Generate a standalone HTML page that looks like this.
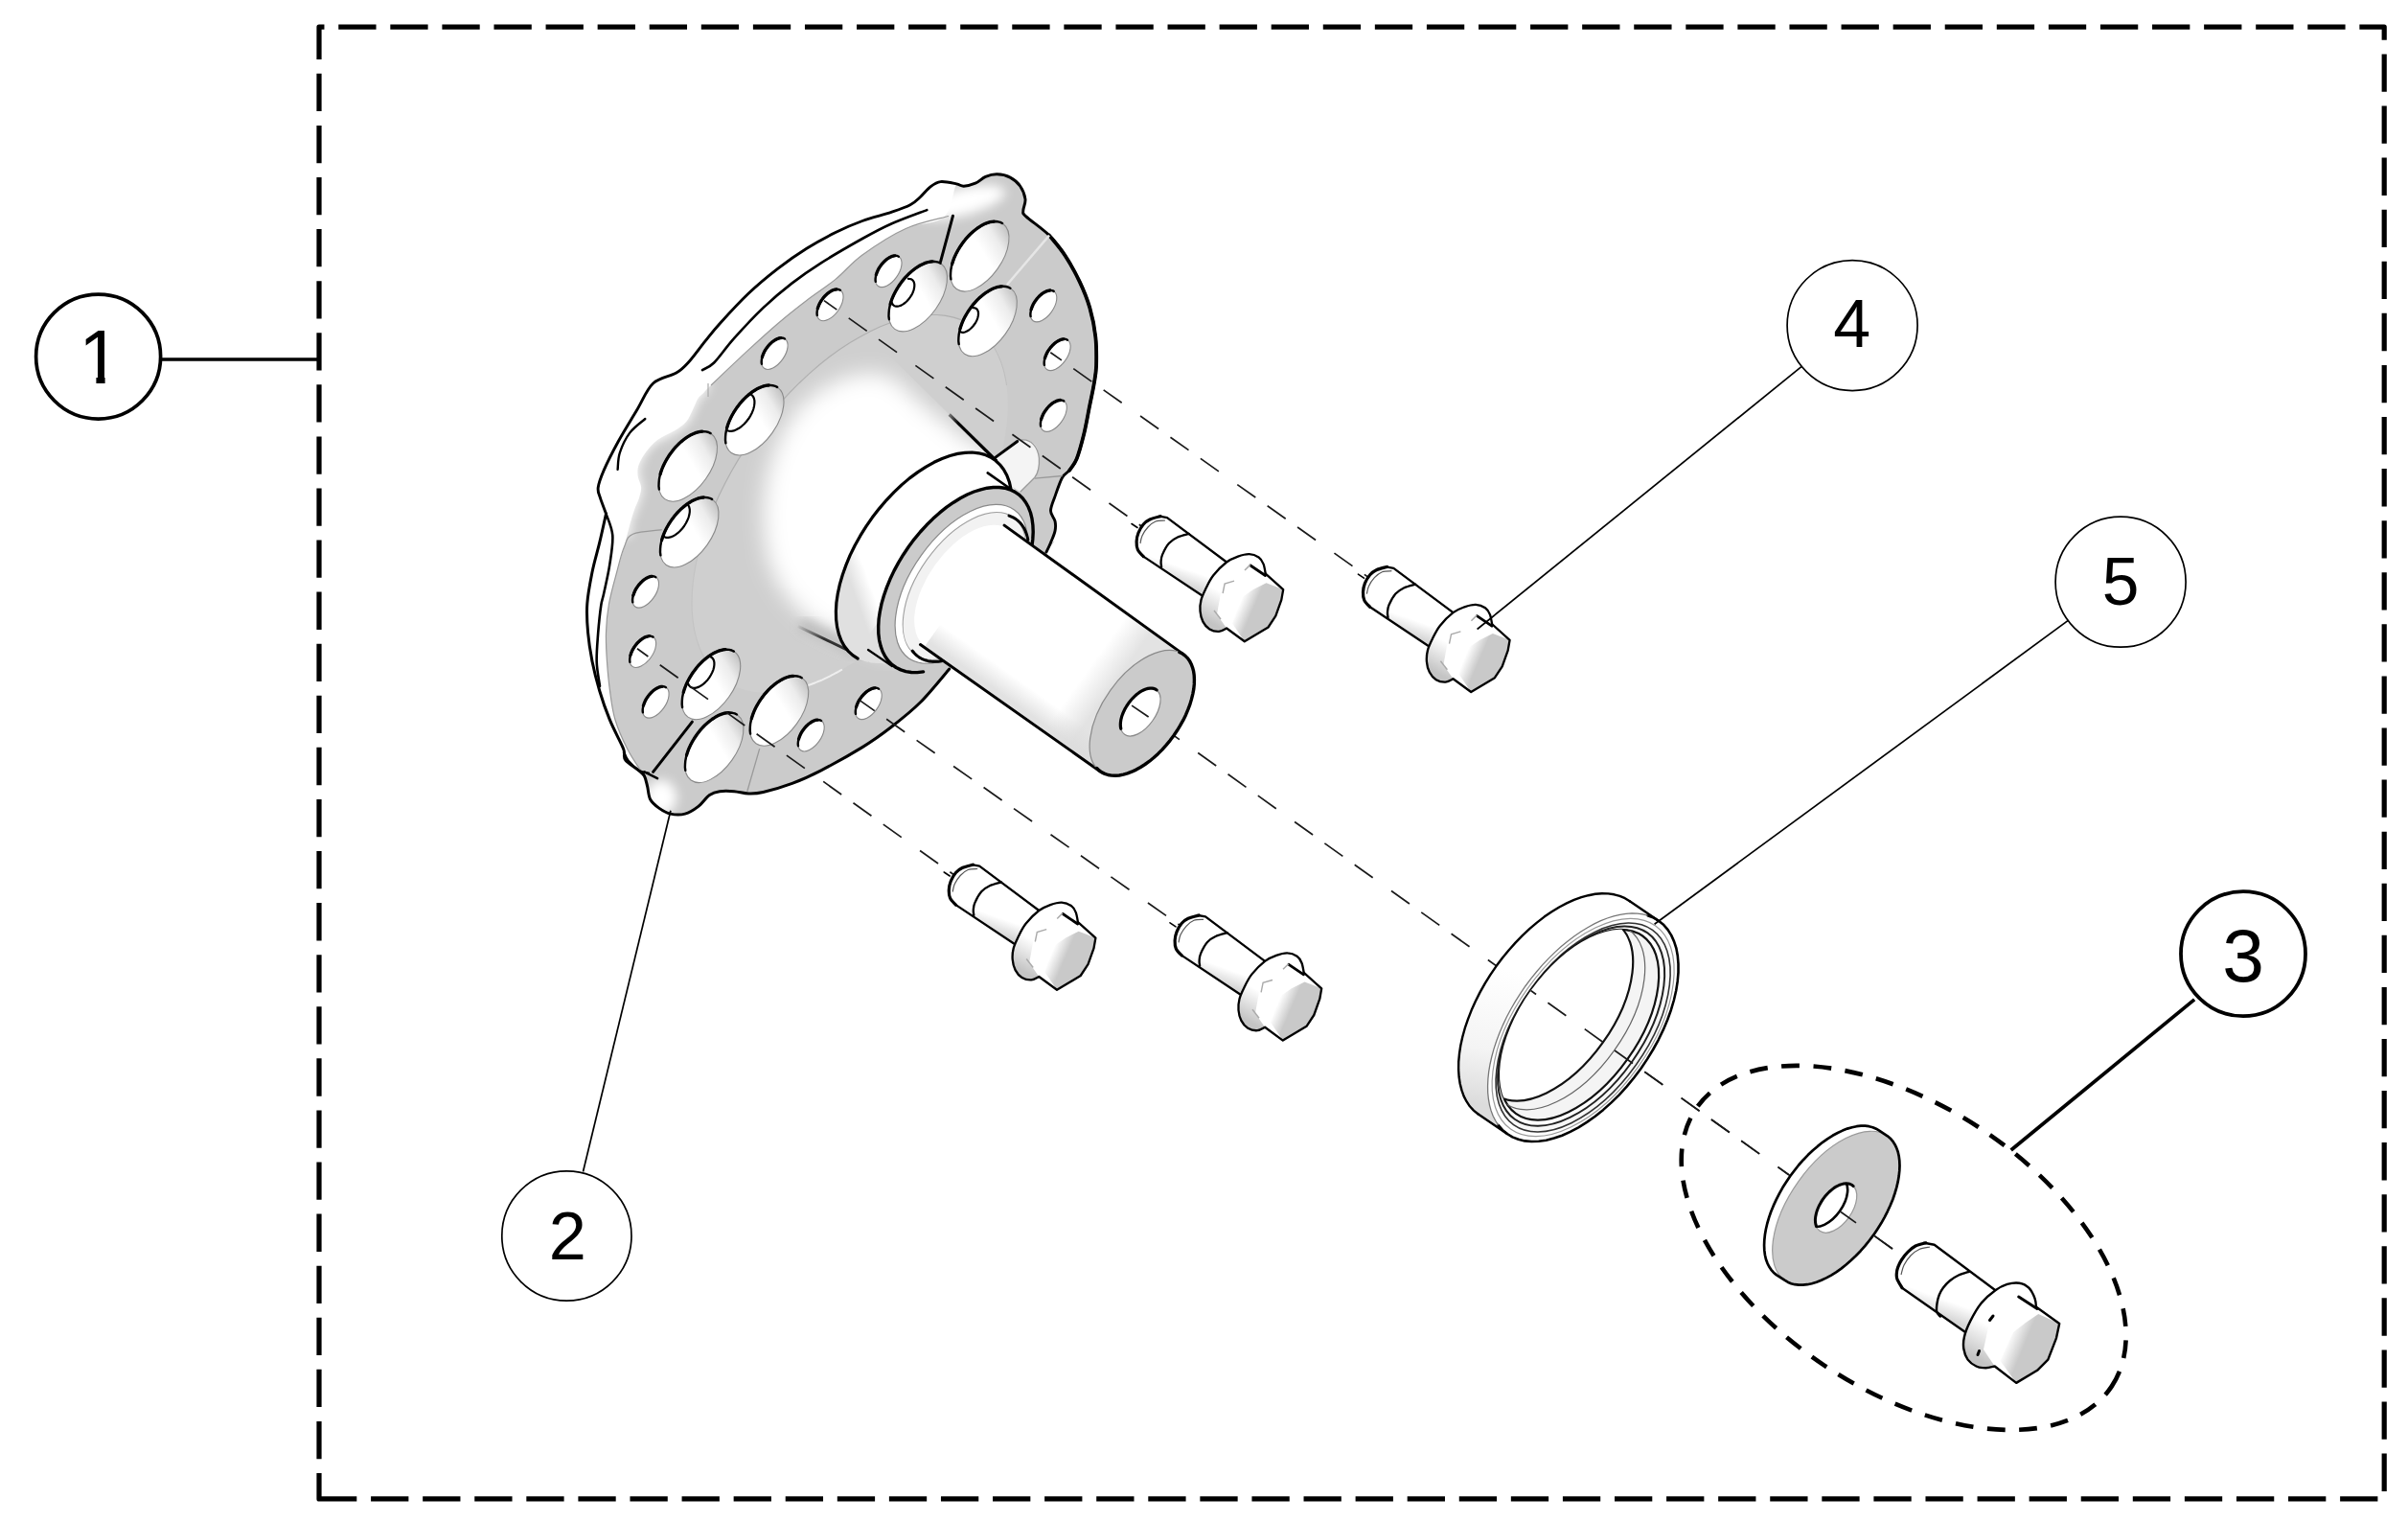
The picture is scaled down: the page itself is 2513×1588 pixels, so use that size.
<!DOCTYPE html>
<html><head><meta charset="utf-8"><title>Hub assembly</title>
<style>
html,body{margin:0;padding:0;background:#fff}
body{width:2513px;height:1588px;overflow:hidden}
svg{display:block}
text{font-family:"Liberation Sans",sans-serif;fill:#000;text-anchor:middle}
.cl{stroke:#1a1a1a;stroke-width:1.7;fill:none;stroke-dasharray:23.3 15.15 23.3 15.15 23.3 23.75}
.k{stroke:#000;fill:none;stroke-linecap:round;stroke-linejoin:round}
</style></head><body>
<svg width="2513" height="1588" viewBox="0 0 2513 1588">
<defs>
<radialGradient id="gCone" gradientUnits="userSpaceOnUse" cx="930" cy="470" r="230" gradientTransform="rotate(35.5 930 470) translate(930 470) scale(0.75 1) translate(-930 -470)">
<stop offset="0" stop-color="#fff"/><stop offset="0.55" stop-color="#fff"/><stop offset="1" stop-color="#d2d2d2"/></radialGradient>
<linearGradient id="gShaft" gradientUnits="userSpaceOnUse" x1="1120" y1="640" x2="1055" y2="731">
<stop offset="0" stop-color="#fff"/><stop offset="0.8" stop-color="#fff"/><stop offset="1" stop-color="#e2e2e2"/></linearGradient>
<linearGradient id="gShaftEnd" gradientUnits="userSpaceOnUse" x1="1133" y1="702" x2="1158" y2="720">
<stop offset="0" stop-color="#dcdcdc" stop-opacity="0"/><stop offset="1" stop-color="#dcdcdc" stop-opacity="0.8"/></linearGradient>
<linearGradient id="gBoss" gradientUnits="userSpaceOnUse" x1="1010" y1="520" x2="920" y2="650">
<stop offset="0" stop-color="#fff"/><stop offset="0.88" stop-color="#fff"/><stop offset="1" stop-color="#e0e0e0"/></linearGradient>
<filter id="b6" x="-20%" y="-20%" width="140%" height="140%"><feGaussianBlur stdDeviation="6"/></filter>
<filter id="b10" x="-30%" y="-30%" width="160%" height="160%"><feGaussianBlur stdDeviation="11"/></filter>
<filter id="b3" x="-20%" y="-20%" width="140%" height="140%"><feGaussianBlur stdDeviation="3"/></filter>
<filter id="b2" x="-20%" y="-20%" width="140%" height="140%"><feGaussianBlur stdDeviation="1.6"/></filter>
</defs>
<rect width="2513" height="1588" fill="#fff"/>
<line x1="1181.1" y1="736.1" x2="1975.0" y2="1303.0" class="cl" stroke-dashoffset="39"/>
<path d="M930.2,221.4 C938.5,218.6 944.9,216.5 949.9,213.8 C954.9,211.2 957.0,208.7 960.5,205.5 C964.0,202.3 967.5,197.6 971.0,194.9 C974.5,192.2 977.1,190.1 981.6,189.6 C986.1,189.1 994.2,191.1 998.2,191.9 C1002.2,192.7 1002.5,194.3 1005.8,194.2 C1009.1,194.1 1014.1,192.8 1017.9,191.2 C1021.7,189.6 1024.7,186.0 1028.5,184.4 C1032.3,182.8 1036.2,181.7 1040.5,181.8 C1044.8,181.9 1050.2,183.0 1054.2,185.1 C1058.2,187.2 1062.1,190.4 1064.7,194.2 C1067.3,198.0 1069.5,203.5 1070.0,207.8 C1070.5,212.1 1067.7,216.9 1067.8,219.9 C1067.9,222.9 1066.3,221.6 1070.8,225.9 C1075.3,230.2 1088.2,238.8 1095.0,245.6 C1101.8,252.4 1106.3,258.6 1111.6,266.7 C1116.9,274.8 1122.4,284.8 1126.7,293.9 C1131.0,303.0 1134.5,311.5 1137.3,321.1 C1140.1,330.7 1142.2,341.3 1143.3,351.4 C1144.4,361.5 1144.3,373.5 1144.1,381.6 C1143.8,389.7 1142.9,393.1 1141.8,400.0 C1140.7,406.9 1139.1,413.9 1137.3,422.7 C1135.5,431.5 1133.5,443.6 1131.2,452.9 C1128.9,462.2 1126.2,472.3 1123.7,478.6 C1121.2,484.9 1118.6,487.4 1116.1,490.7 C1113.6,494.0 1111.1,493.7 1108.6,498.2 C1106.1,502.7 1103.0,512.1 1101.0,517.9 C1099.0,523.7 1096.5,528.7 1096.5,533.0 C1096.5,537.3 1100.2,540.1 1101.0,543.6 C1101.8,547.1 1101.8,550.3 1101.0,554.1 C1100.2,557.9 1098.0,562.5 1096.5,566.2 C1095.0,569.9 1109.5,554.1 1091.9,576.1 C1074.3,598.1 1012.6,671.9 990.7,698.0 C968.8,724.1 970.6,722.7 960.5,732.8 C950.4,742.9 940.3,750.7 930.2,758.5 C920.1,766.3 912.2,772.1 900.0,779.6 C887.8,787.1 869.1,797.5 856.9,803.8 C844.7,810.1 836.8,813.6 826.7,817.4 C816.6,821.2 804.1,824.7 796.5,826.5 C788.9,828.3 786.3,828.1 781.3,828.0 C776.2,827.9 771.2,826.1 766.2,825.7 C761.2,825.3 755.4,825.1 751.1,825.7 C746.8,826.3 744.3,826.9 740.5,829.5 C736.7,832.1 732.8,838.3 728.5,841.6 C724.2,844.9 719.7,847.9 714.9,849.1 C710.1,850.4 704.2,850.1 699.7,849.1 C695.2,848.1 691.2,845.6 687.7,843.1 C684.2,840.6 680.6,837.8 678.6,834.0 C676.6,830.2 676.6,824.4 675.6,820.4 C674.6,816.4 674.0,812.6 672.5,809.8 C671.0,807.0 669.8,806.6 666.5,803.8 C663.2,801.0 655.4,796.2 652.9,793.2 C650.4,790.2 651.9,788.0 651.4,785.7 C650.9,783.4 652.4,785.4 649.9,779.6 C647.4,773.8 640.3,760.7 636.3,750.9 C632.3,741.1 628.7,730.8 625.7,720.7 C622.7,710.6 620.1,700.6 618.1,690.5 C616.1,680.4 614.5,670.3 613.6,660.2 C612.7,650.1 612.0,640.6 612.8,630.0 C613.5,619.4 616.0,607.1 618.1,596.5 C620.2,585.9 623.3,576.3 625.7,566.2 C628.1,556.1 632.4,543.8 632.5,536.0 C632.6,528.2 627.8,523.9 626.4,519.4 C625.0,514.9 623.6,513.6 624.2,508.8 C624.8,504.0 626.7,498.8 630.2,490.7 C633.7,482.6 639.5,471.1 645.3,460.5 C651.1,449.9 659.0,437.3 665.0,427.2 C671.0,417.1 674.8,406.4 681.6,400.0 C688.4,393.6 699.5,392.9 705.8,389.1 C712.1,385.3 714.4,382.5 719.4,377.0 C724.4,371.5 730.7,362.4 736.0,355.9 C741.3,349.3 743.6,346.0 751.1,337.7 C758.6,329.4 771.2,315.6 781.3,306.0 C791.4,296.4 801.5,288.1 811.6,280.3 C821.7,272.5 831.7,265.5 841.8,259.2 C851.9,252.9 862.3,247.3 872.0,242.5 C881.7,237.7 890.3,234.0 900.0,230.5 C909.7,227.0 921.9,224.2 930.2,221.4Z" fill="#fff" stroke="none"/>
<clipPath id="cFace"><path d="M930.2,221.4 C938.5,218.6 944.9,216.5 949.9,213.8 C954.9,211.2 957.0,208.7 960.5,205.5 C964.0,202.3 967.5,197.6 971.0,194.9 C974.5,192.2 977.1,190.1 981.6,189.6 C986.1,189.1 994.2,191.1 998.2,191.9 C1002.2,192.7 1002.5,194.3 1005.8,194.2 C1009.1,194.1 1014.1,192.8 1017.9,191.2 C1021.7,189.6 1024.7,186.0 1028.5,184.4 C1032.3,182.8 1036.2,181.7 1040.5,181.8 C1044.8,181.9 1050.2,183.0 1054.2,185.1 C1058.2,187.2 1062.1,190.4 1064.7,194.2 C1067.3,198.0 1069.5,203.5 1070.0,207.8 C1070.5,212.1 1067.7,216.9 1067.8,219.9 C1067.9,222.9 1066.3,221.6 1070.8,225.9 C1075.3,230.2 1088.2,238.8 1095.0,245.6 C1101.8,252.4 1106.3,258.6 1111.6,266.7 C1116.9,274.8 1122.4,284.8 1126.7,293.9 C1131.0,303.0 1134.5,311.5 1137.3,321.1 C1140.1,330.7 1142.2,341.3 1143.3,351.4 C1144.4,361.5 1144.3,373.5 1144.1,381.6 C1143.8,389.7 1142.9,393.1 1141.8,400.0 C1140.7,406.9 1139.1,413.9 1137.3,422.7 C1135.5,431.5 1133.5,443.6 1131.2,452.9 C1128.9,462.2 1126.2,472.3 1123.7,478.6 C1121.2,484.9 1118.6,487.4 1116.1,490.7 C1113.6,494.0 1111.1,493.7 1108.6,498.2 C1106.1,502.7 1103.0,512.1 1101.0,517.9 C1099.0,523.7 1096.5,528.7 1096.5,533.0 C1096.5,537.3 1100.2,540.1 1101.0,543.6 C1101.8,547.1 1101.8,550.3 1101.0,554.1 C1100.2,557.9 1098.0,562.5 1096.5,566.2 C1095.0,569.9 1109.5,554.1 1091.9,576.1 C1074.3,598.1 1012.6,671.9 990.7,698.0 C968.8,724.1 970.6,722.7 960.5,732.8 C950.4,742.9 940.3,750.7 930.2,758.5 C920.1,766.3 912.2,772.1 900.0,779.6 C887.8,787.1 869.1,797.5 856.9,803.8 C844.7,810.1 836.8,813.6 826.7,817.4 C816.6,821.2 804.1,824.7 796.5,826.5 C788.9,828.3 786.3,828.1 781.3,828.0 C776.2,827.9 771.2,826.1 766.2,825.7 C761.2,825.3 755.4,825.1 751.1,825.7 C746.8,826.3 744.3,826.9 740.5,829.5 C736.7,832.1 732.8,838.3 728.5,841.6 C724.2,844.9 719.7,847.9 714.9,849.1 C710.1,850.4 704.2,850.1 699.7,849.1 C695.2,848.1 691.2,845.6 687.7,843.1 C684.2,840.6 680.6,837.8 678.6,834.0 C676.6,830.2 676.6,824.4 675.6,820.4 C674.6,816.4 674.0,812.6 672.5,809.8 C671.0,807.0 669.8,806.6 666.5,803.8 C663.2,801.0 655.4,796.2 652.9,793.2 C650.4,790.2 651.9,788.0 651.4,785.7 C650.9,783.4 652.4,785.4 649.9,779.6 C647.4,773.8 640.3,760.7 636.3,750.9 C632.3,741.1 628.7,730.8 625.7,720.7 C622.7,710.6 620.1,700.6 618.1,690.5 C616.1,680.4 614.5,670.3 613.6,660.2 C612.7,650.1 612.0,640.6 612.8,630.0 C613.5,619.4 616.0,607.1 618.1,596.5 C620.2,585.9 623.3,576.3 625.7,566.2 C628.1,556.1 632.4,543.8 632.5,536.0 C632.6,528.2 627.8,523.9 626.4,519.4 C625.0,514.9 623.6,513.6 624.2,508.8 C624.8,504.0 626.7,498.8 630.2,490.7 C633.7,482.6 639.5,471.1 645.3,460.5 C651.1,449.9 659.0,437.3 665.0,427.2 C671.0,417.1 674.8,406.4 681.6,400.0 C688.4,393.6 699.5,392.9 705.8,389.1 C712.1,385.3 714.4,382.5 719.4,377.0 C724.4,371.5 730.7,362.4 736.0,355.9 C741.3,349.3 743.6,346.0 751.1,337.7 C758.6,329.4 771.2,315.6 781.3,306.0 C791.4,296.4 801.5,288.1 811.6,280.3 C821.7,272.5 831.7,265.5 841.8,259.2 C851.9,252.9 862.3,247.3 872.0,242.5 C881.7,237.7 890.3,234.0 900.0,230.5 C909.7,227.0 921.9,224.2 930.2,221.4Z"/></clipPath>
<g clip-path="url(#cFace)">
<path d="M900.0,266.0 C912.2,257.2 931.1,245.1 945.3,238.5 C959.5,231.9 976.2,234.3 985.0,226.5 C993.8,218.7 994.7,197.3 998.2,191.9 C1001.7,186.5 1002.5,194.3 1005.8,194.2 C1009.1,194.1 1014.1,192.8 1017.9,191.2 C1021.7,189.6 1024.7,186.0 1028.5,184.4 C1032.3,182.8 1036.2,181.7 1040.5,181.8 C1044.8,181.9 1050.2,183.0 1054.2,185.1 C1058.2,187.2 1062.1,190.4 1064.7,194.2 C1067.3,198.0 1069.5,203.5 1070.0,207.8 C1070.5,212.1 1067.7,216.9 1067.8,219.9 C1067.9,222.9 1066.3,221.6 1070.8,225.9 C1075.3,230.2 1088.2,238.8 1095.0,245.6 C1101.8,252.4 1106.3,258.6 1111.6,266.7 C1116.9,274.8 1122.4,284.8 1126.7,293.9 C1131.0,303.0 1134.5,311.5 1137.3,321.1 C1140.1,330.7 1142.2,341.3 1143.3,351.4 C1144.4,361.5 1144.3,373.5 1144.1,381.6 C1143.8,389.7 1142.9,393.1 1141.8,400.0 C1140.7,406.9 1139.1,413.9 1137.3,422.7 C1135.5,431.5 1133.5,443.6 1131.2,452.9 C1128.9,462.2 1126.2,472.3 1123.7,478.6 C1121.2,484.9 1118.6,487.4 1116.1,490.7 C1113.6,494.0 1111.1,493.7 1108.6,498.2 C1106.1,502.7 1103.0,512.1 1101.0,517.9 C1099.0,523.7 1096.5,528.7 1096.5,533.0 C1096.5,537.3 1100.2,540.1 1101.0,543.6 C1101.8,547.1 1101.8,550.3 1101.0,554.1 C1100.2,557.9 1098.0,562.5 1096.5,566.2 C1095.0,569.9 1109.5,554.1 1091.9,576.1 C1074.3,598.1 1012.6,671.9 990.7,698.0 C968.8,724.1 970.6,722.7 960.5,732.8 C950.4,742.9 940.3,750.7 930.2,758.5 C920.1,766.3 912.2,772.1 900.0,779.6 C887.8,787.1 869.1,797.5 856.9,803.8 C844.7,810.1 836.8,813.6 826.7,817.4 C816.6,821.2 804.1,824.7 796.5,826.5 C788.9,828.3 786.3,828.1 781.3,828.0 C776.2,827.9 771.2,826.1 766.2,825.7 C761.2,825.3 755.4,825.1 751.1,825.7 C746.8,826.3 744.3,826.9 740.5,829.5 C736.7,832.1 732.8,838.3 728.5,841.6 C724.2,844.9 719.7,847.9 714.9,849.1 C710.1,850.4 704.2,850.1 699.7,849.1 C695.2,848.1 691.2,845.6 687.7,843.1 C684.2,840.6 680.6,837.8 678.6,834.0 C676.6,830.2 677.0,825.1 675.6,820.4 C674.2,815.7 673.4,812.4 670.0,806.0 C666.6,799.6 659.7,791.2 655.0,782.0 C650.3,772.8 645.1,761.2 642.0,751.0 C638.9,740.8 637.9,730.8 636.5,720.7 C635.1,710.6 634.2,700.6 633.5,690.5 C632.8,680.4 632.2,670.3 632.5,660.2 C632.8,650.1 633.6,640.6 635.5,630.0 C637.4,619.4 641.1,606.4 643.8,596.5 C646.4,586.6 649.1,579.0 651.4,570.8 C653.6,562.6 655.5,553.8 657.3,547.3 C659.1,540.8 660.4,536.4 662.0,531.9 C663.6,527.4 665.6,524.0 666.8,520.1 C668.0,516.2 669.3,512.2 669.1,508.3 C668.9,504.4 666.0,500.3 665.6,496.4 C665.2,492.4 665.2,488.9 666.8,484.6 C668.4,480.3 671.6,474.7 675.0,470.4 C678.4,466.1 682.0,462.2 686.9,458.6 C691.8,455.1 699.7,452.2 704.6,449.1 C709.5,446.0 713.5,443.1 716.4,439.7 C719.3,436.3 720.3,432.9 722.3,429.0 C724.3,425.1 726.3,419.1 728.3,416.0 C730.3,412.9 731.9,412.4 734.2,410.1 C736.5,407.8 734.1,409.5 742.0,402.0 C749.9,394.5 769.7,375.6 781.3,364.9 C792.9,354.2 801.5,346.3 811.6,337.7 C821.7,329.1 831.7,321.2 841.8,313.5 C851.9,305.8 862.3,299.3 872.0,291.4 C881.7,283.5 887.8,274.8 900.0,266.0Z" fill="#cbcbcb"/>
<g filter="url(#b6)" fill="#fff">
<ellipse cx="1003" cy="211" rx="47" ry="14" transform="rotate(-14 1003 211)"/>
<path d="M736.0,398.0 C735.0,399.3 732.2,403.3 730.0,406.0 C727.8,408.7 725.2,410.3 723.0,414.0 C720.8,417.7 719.0,424.0 717.0,428.0 C715.0,432.0 714.0,434.8 711.0,438.0 C708.0,441.2 704.0,444.0 699.0,447.0 C694.0,450.0 686.0,452.5 681.0,456.0 C676.0,459.5 672.3,463.5 669.0,468.0 C665.7,472.5 662.6,478.3 661.0,483.0 C659.4,487.7 659.2,491.8 659.5,496.0 C659.8,500.2 662.8,504.0 663.0,508.0 C663.2,512.0 662.2,516.0 661.0,520.0 C659.8,524.0 657.7,527.5 656.0,532.0 C654.3,536.5 651.7,542.3 651.0,547.0 C650.3,551.7 651.8,557.8 652.0,560.0" stroke="#fff" stroke-width="13" fill="none"/>
<ellipse cx="690" cy="832" rx="16" ry="18"/>
</g>
<ellipse cx="886.9" cy="525.7" rx="122.63" ry="226.00" transform="rotate(35.5 886.9 525.7)" fill="#cfcfcf" stroke="none"/>
<clipPath id="cCone"><path d="M700,300 L900,343 L990.7,432.5 L1048,489 L1048,700 L905,700 L700,700Z"/></clipPath>
<g clip-path="url(#cCone)"><g filter="url(#b10)" fill="#fff">
<path d="M925.0,392.0 C939.2,396.8 952.5,414.0 965.0,424.0 C977.5,434.0 986.7,440.7 1000.0,452.0 C1013.3,463.3 1038.3,467.3 1045.0,492.0 C1051.7,516.7 1054.2,568.7 1040.0,600.0 C1025.8,631.3 983.3,668.0 960.0,680.0 C936.7,692.0 919.2,677.7 900.0,672.0 C880.8,666.3 860.3,658.0 845.0,646.0 C829.7,634.0 816.0,617.7 808.0,600.0 C800.0,582.3 797.3,560.3 797.0,540.0 C796.7,519.7 799.7,497.2 806.0,478.0 C812.3,458.8 822.7,438.8 835.0,425.0 C847.3,411.2 865.0,400.5 880.0,395.0 C895.0,389.5 910.8,387.2 925.0,392.0Z" />
</g></g>
</g>
<path d="M734.8,556.0 L739.3,543.3 L744.4,530.4 L750.1,517.6 L756.4,504.8 L763.2,492.0 L770.6,479.4 L778.4,467.1 L786.8,454.9 L795.5,443.1 L804.6,431.6 L814.1,420.5 L823.9,409.9 L834.0,399.7 L844.2,390.1 L854.7,381.0 L865.3,372.6 L876.0,364.8 L886.7,357.7 L897.5,351.4 L908.2,345.7 L918.8,340.8 L929.2,336.7 L939.5,333.4 L949.6,331.0 L959.4,329.3 L968.9,328.5 L978.0,328.5 L986.8,329.4 L995.1,331.1 L1003.0,333.6" stroke="#b0b0b0" stroke-width="1.2" fill="none"/>
<path d="M747.5,702.8 L744.7,699.9 L742.1,696.9 L739.7,693.6 L737.4,690.2 L735.2,686.7 L733.2,682.9 L731.4,679.0 L729.7,675.0 L728.2,670.8 L726.9,666.4 L725.7,661.9 L724.6,657.3 L723.8,652.5 L723.1,647.6 L722.6,642.6 L722.2,637.5 L722.0,632.2 L722.0,626.8 L722.2,621.4 L722.5,615.8 L723.0,610.1 L723.6,604.4 L724.5,598.6 L725.5,592.7 L726.6,586.7 L727.9,580.7 L729.4,574.6 L731.1,568.4 L732.9,562.2 L734.8,556.0" stroke="#c4c4c4" stroke-width="1.2" fill="none"/>
<path d="M879.0,698.5 L876.9,699.7 L874.8,700.9 L872.7,702.0 L870.6,703.2 L868.5,704.2 L866.4,705.3 L864.3,706.3 L862.2,707.3 L860.1,708.3 L858.1,709.3 L856.0,710.2 L853.9,711.0 L851.8,711.9 L849.8,712.7 L847.7,713.5 L845.7,714.3 L843.6,715.0 L841.6,715.7 L839.6,716.3 L837.6,717.0 L835.6,717.6 L833.6,718.2 L831.6,718.7 L829.6,719.2 L827.6,719.7 L825.6,720.1 L823.7,720.5 L821.7,720.9 L819.8,721.3 L817.9,721.6" stroke="#eee" stroke-width="2" fill="none"/>
<path d="M1003.0,333.6 L1005.5,334.6 L1008.0,335.8 L1010.5,337.0 L1012.9,338.3 L1015.2,339.7 L1017.4,341.2 L1019.6,342.8 L1021.8,344.5 L1023.8,346.3 L1025.8,348.1 L1027.8,350.1 L1029.6,352.1 L1031.4,354.2 L1033.1,356.4 L1034.8,358.7 L1036.4,361.0 L1037.9,363.5 L1039.3,366.0 L1040.6,368.6 L1041.9,371.3 L1043.1,374.0 L1044.3,376.9 L1045.3,379.8 L1046.3,382.7 L1047.2,385.8 L1048.0,388.9 L1048.7,392.1 L1049.4,395.3 L1050.0,398.6 L1050.5,402.0" stroke="#bdbdbd" stroke-width="1" fill="none"/>
<path d="M632.5,536.0 C631.5,533.2 627.8,523.9 626.4,519.4 C625.0,514.9 623.6,513.6 624.2,508.8 C624.8,504.0 626.7,498.8 630.2,490.7 C633.7,482.6 639.5,471.1 645.3,460.5 C651.1,449.9 659.0,437.3 665.0,427.2 C671.0,417.1 674.8,406.4 681.6,400.0 C688.4,393.6 699.5,392.9 705.8,389.1 C712.1,385.3 714.4,382.5 719.4,377.0 C724.4,371.5 730.7,362.4 736.0,355.9 C741.3,349.3 743.6,346.0 751.1,337.7 C758.6,329.4 771.2,315.6 781.3,306.0 C791.4,296.4 801.5,288.1 811.6,280.3 C821.7,272.5 831.7,265.5 841.8,259.2 C851.9,252.9 862.3,247.3 872.0,242.5 C881.7,237.7 890.3,234.0 900.0,230.5 C909.7,227.0 921.9,224.2 930.2,221.4 C938.5,218.6 944.9,216.5 949.9,213.8 C954.9,211.2 957.0,208.7 960.5,205.5 C964.0,202.3 967.5,197.6 971.0,194.9 C974.5,192.2 977.1,190.1 981.6,189.6 C986.1,189.1 994.2,191.1 998.2,191.9 C1002.2,192.7 1002.5,194.3 1005.8,194.2 C1009.1,194.1 1014.1,192.8 1017.9,191.2 C1021.7,189.6 1024.7,186.0 1028.5,184.4 C1032.3,182.8 1036.2,181.7 1040.5,181.8 C1044.8,181.9 1050.2,183.0 1054.2,185.1 C1058.2,187.2 1062.1,190.4 1064.7,194.2 C1067.3,198.0 1069.5,203.5 1070.0,207.8 C1070.5,212.1 1067.7,216.9 1067.8,219.9 C1067.9,222.9 1066.3,221.6 1070.8,225.9 C1075.3,230.2 1088.2,238.8 1095.0,245.6 C1101.8,252.4 1106.3,258.6 1111.6,266.7 C1116.9,274.8 1122.4,284.8 1126.7,293.9 C1131.0,303.0 1134.5,311.5 1137.3,321.1 C1140.1,330.7 1142.2,341.3 1143.3,351.4 C1144.4,361.5 1144.3,373.5 1144.1,381.6 C1143.8,389.7 1142.9,393.1 1141.8,400.0 C1140.7,406.9 1139.1,413.9 1137.3,422.7 C1135.5,431.5 1133.5,443.6 1131.2,452.9 C1128.9,462.2 1126.2,472.3 1123.7,478.6 C1121.2,484.9 1118.6,487.4 1116.1,490.7 C1113.6,494.0 1111.1,493.7 1108.6,498.2 C1106.1,502.7 1103.0,512.1 1101.0,517.9 C1099.0,523.7 1096.5,528.7 1096.5,533.0 C1096.5,537.3 1100.2,540.1 1101.0,543.6 C1101.8,547.1 1101.8,550.3 1101.0,554.1 C1100.2,557.9 1098.0,562.5 1096.5,566.2 C1095.0,569.9 1092.7,574.5 1091.9,576.1" class="k" stroke-width="2.9"/>
<path d="M1095.0,245.6 C1097.8,249.1 1106.3,258.6 1111.6,266.7 C1116.9,274.8 1122.4,284.8 1126.7,293.9 C1131.0,303.0 1134.5,311.5 1137.3,321.1 C1140.1,330.7 1142.2,341.3 1143.3,351.4 C1144.4,361.5 1144.3,373.5 1144.1,381.6 C1143.8,389.7 1142.9,393.1 1141.8,400.0 C1140.7,406.9 1139.1,413.9 1137.3,422.7 C1135.5,431.5 1133.5,443.6 1131.2,452.9 C1128.9,462.2 1126.2,472.3 1123.7,478.6 C1121.2,484.9 1117.4,488.7 1116.1,490.7" class="k" stroke-width="3.8"/>
<path d="M990.7,698.0 C985.7,703.8 970.6,722.7 960.5,732.8 C950.4,742.9 940.3,750.7 930.2,758.5 C920.1,766.3 912.2,772.1 900.0,779.6 C887.8,787.1 869.1,797.5 856.9,803.8 C844.7,810.1 836.8,813.6 826.7,817.4 C816.6,821.2 804.1,824.7 796.5,826.5 C788.9,828.3 786.3,828.1 781.3,828.0 C776.2,827.9 771.2,826.1 766.2,825.7 C761.2,825.3 755.4,825.1 751.1,825.7 C746.8,826.3 744.3,826.9 740.5,829.5 C736.7,832.1 732.8,838.3 728.5,841.6 C724.2,844.9 719.7,847.9 714.9,849.1 C710.1,850.4 704.2,850.1 699.7,849.1 C695.2,848.1 691.2,845.6 687.7,843.1 C684.2,840.6 680.6,837.8 678.6,834.0 C676.6,830.2 676.6,824.4 675.6,820.4 C674.6,816.4 674.0,812.6 672.5,809.8 C671.0,807.0 669.8,806.6 666.5,803.8 C663.2,801.0 655.4,796.2 652.9,793.2 C650.4,790.2 651.9,788.0 651.4,785.7 C650.9,783.4 652.4,785.4 649.9,779.6 C647.4,773.8 640.3,760.7 636.3,750.9 C632.3,741.1 628.7,730.8 625.7,720.7 C622.7,710.6 620.1,700.6 618.1,690.5 C616.1,680.4 614.5,670.3 613.6,660.2 C612.7,650.1 612.0,640.6 612.8,630.0 C613.5,619.4 616.0,607.1 618.1,596.5 C620.2,585.9 623.3,576.3 625.7,566.2 C628.1,556.1 631.4,541.0 632.5,536.0" class="k" stroke-width="3.0"/>
<path d="M733.0,386.1 C735.0,384.8 739.6,384.0 745.1,378.5 C750.6,373.0 757.6,362.5 766.2,352.9 C774.8,343.3 786.4,330.7 796.5,321.1 C806.6,311.5 816.6,303.2 826.7,295.4 C836.8,287.6 844.7,282.0 856.9,274.3 C869.1,266.6 887.8,255.8 900.0,249.0 C912.2,242.2 919.0,238.5 930.2,233.5 C941.4,228.5 961.1,221.5 967.3,219.1" class="k" stroke-width="2.6"/>
<path d="M632.5,536.0 C633.6,539.8 638.7,549.9 639.3,558.7 C639.9,567.5 637.8,578.8 636.3,588.9 C634.8,599.0 631.7,611.9 630.2,619.1 C628.7,626.3 628.2,625.1 627.2,632.0 C626.2,638.9 625.0,650.5 624.2,660.2 C623.5,670.0 622.4,681.2 622.7,690.5 C623.0,699.8 625.5,711.8 626.0,716.0" class="k" stroke-width="2.6"/>
<path d="M673.3,437.0 C670.6,439.4 661.8,445.5 657.4,451.4 C653.0,457.3 648.9,466.1 646.8,472.5 C644.7,478.9 645.0,487.0 644.6,489.9" class="k" stroke-width="2.4"/>
<path d="M670.0,806.0 C667.5,802.0 659.7,791.2 655.0,782.0 C650.3,772.8 645.1,761.2 642.0,751.0 C638.9,740.8 637.9,730.8 636.5,720.7 C635.1,710.6 634.2,700.6 633.5,690.5 C632.8,680.4 632.2,670.3 632.5,660.2 C632.8,650.1 633.6,640.6 635.5,630.0 C637.4,619.4 641.1,606.4 643.8,596.5 C646.4,586.6 648.6,577.3 651.4,570.8 C654.2,564.2 654.0,560.2 660.5,557.2 C667.0,554.2 685.7,553.4 690.7,552.6" stroke="#999" stroke-width="1.2" fill="none"/>
<path d="M742.0,402.0 C748.5,395.8 769.7,375.6 781.3,364.9 C792.9,354.2 801.5,346.3 811.6,337.7 C821.7,329.1 831.7,321.2 841.8,313.5 C851.9,305.8 862.3,299.3 872.0,291.4 C881.7,283.5 887.8,274.8 900.0,266.0 C912.2,257.2 930.3,245.2 945.3,238.5 C960.3,231.8 982.5,227.7 990.0,225.5" stroke="#999" stroke-width="1.2" fill="none"/>
<line x1="994.5" y1="225.2" x2="981.6" y2="272.8" class="k" stroke-width="3"/>
<line x1="722.4" y1="753.2" x2="681.6" y2="805.3" class="k" stroke-width="3"/>
<line x1="672.5" y1="805.3" x2="686.1" y2="812.1" class="k" stroke-width="2.5"/>
<path d="M651.4,784.9 C652.1,786.4 653.2,790.6 655.8,793.8 C658.4,797.0 663.5,801.8 667.0,803.9 C670.5,806.0 675.3,806.1 677.0,806.5" class="k" stroke-width="2.2"/>
<line x1="1095.0" y1="245.6" x2="1051.0" y2="297.0" stroke="#e6e6e6" stroke-width="2.5"/>
<line x1="792.7" y1="781.1" x2="779.8" y2="825.7" stroke="#9a9a9a" stroke-width="1.3"/>
<line x1="739.0" y1="400.0" x2="739.0" y2="414.0" stroke="#aaa" stroke-width="1.2"/>
<linearGradient id="gHole" gradientUnits="objectBoundingBox" x1="0.55" y1="0" x2="0.45" y2="0.42"><stop offset="0" stop-color="#c4c4c4"/><stop offset="0.45" stop-color="#ececec"/><stop offset="1" stop-color="#fff"/></linearGradient>
<ellipse cx="927.3" cy="283.2" rx="10.20" ry="18.80" transform="rotate(35.5 927.3 283.2)" fill="#fff" stroke="#8a8a8a" stroke-width="1.1"/>
<path d="M913.8,293.9 L913.6,292.5 L913.6,291.0 L913.8,289.4 L914.1,287.7 L914.6,285.9 L915.2,284.2 L916.0,282.4 L916.9,280.6 L917.9,278.8 L919.1,277.1 L920.3,275.5 L921.7,274.0 L923.1,272.6 L924.5,271.3 L926.0,270.1 L927.5,269.1 L929.0,268.3 L930.4,267.6 L931.9,267.2 L933.3,266.9 L934.6,266.8 L935.8,266.9 L936.9,267.2 L937.9,267.7" class="k" stroke-width="2.4"/>
<path d="M914.3,286.8 L914.7,285.7 L915.1,284.5 L915.6,283.3 L916.1,282.1 L916.7,280.9 L917.4,279.7 L918.1,278.6 L918.9,277.5 L919.7,276.4 L920.5,275.3 L921.4,274.3 L922.3,273.3 L923.3,272.4 L924.2,271.5 L925.2,270.7 L926.2,270.0 L927.2,269.3 L928.2,268.7 L929.2,268.2 L930.2,267.7 L931.1,267.4 L932.1,267.1 L933.0,266.9 L933.9,266.8" class="k" stroke-width="3.3"/>
<ellipse cx="866.3" cy="318.3" rx="10.20" ry="18.80" transform="rotate(35.5 866.3 318.3)" fill="#fff" stroke="#8a8a8a" stroke-width="1.1"/>
<path d="M852.8,329.0 L852.6,327.6 L852.6,326.1 L852.8,324.5 L853.1,322.8 L853.6,321.0 L854.2,319.3 L855.0,317.5 L855.9,315.7 L856.9,313.9 L858.1,312.2 L859.3,310.6 L860.7,309.1 L862.1,307.7 L863.5,306.4 L865.0,305.2 L866.5,304.2 L868.0,303.4 L869.4,302.7 L870.9,302.3 L872.3,302.0 L873.6,301.9 L874.8,302.0 L875.9,302.3 L876.9,302.8" class="k" stroke-width="2.4"/>
<path d="M853.3,321.9 L853.7,320.8 L854.1,319.6 L854.6,318.4 L855.1,317.2 L855.7,316.0 L856.4,314.8 L857.1,313.7 L857.9,312.6 L858.7,311.5 L859.5,310.4 L860.4,309.4 L861.3,308.4 L862.3,307.5 L863.2,306.6 L864.2,305.8 L865.2,305.1 L866.2,304.4 L867.2,303.8 L868.2,303.3 L869.2,302.8 L870.1,302.5 L871.1,302.2 L872.0,302.0 L872.9,301.9" class="k" stroke-width="3.3"/>
<ellipse cx="808.4" cy="369.0" rx="10.20" ry="18.80" transform="rotate(35.5 808.4 369.0)" fill="#fff" stroke="#8a8a8a" stroke-width="1.1"/>
<path d="M794.9,379.7 L794.7,378.3 L794.7,376.8 L794.9,375.2 L795.2,373.5 L795.7,371.7 L796.3,370.0 L797.1,368.2 L798.0,366.4 L799.0,364.6 L800.2,362.9 L801.4,361.3 L802.8,359.8 L804.2,358.4 L805.6,357.1 L807.1,355.9 L808.6,354.9 L810.1,354.1 L811.5,353.4 L813.0,353.0 L814.4,352.7 L815.7,352.6 L816.9,352.7 L818.0,353.0 L819.0,353.5" class="k" stroke-width="2.4"/>
<path d="M795.4,372.6 L795.8,371.5 L796.2,370.3 L796.7,369.1 L797.2,367.9 L797.8,366.7 L798.5,365.5 L799.2,364.4 L800.0,363.3 L800.8,362.2 L801.6,361.1 L802.5,360.1 L803.4,359.1 L804.4,358.2 L805.3,357.3 L806.3,356.5 L807.3,355.8 L808.3,355.1 L809.3,354.5 L810.3,354.0 L811.3,353.5 L812.2,353.2 L813.2,352.9 L814.1,352.7 L815.0,352.6" class="k" stroke-width="3.3"/>
<ellipse cx="1089.1" cy="319.4" rx="10.20" ry="18.80" transform="rotate(35.5 1089.1 319.4)" fill="#fff" stroke="#8a8a8a" stroke-width="1.1"/>
<path d="M1075.6,330.1 L1075.4,328.7 L1075.4,327.2 L1075.6,325.6 L1075.9,323.9 L1076.4,322.1 L1077.0,320.4 L1077.8,318.6 L1078.7,316.8 L1079.7,315.0 L1080.9,313.3 L1082.1,311.7 L1083.5,310.2 L1084.9,308.8 L1086.3,307.5 L1087.8,306.3 L1089.3,305.3 L1090.8,304.5 L1092.2,303.8 L1093.7,303.4 L1095.1,303.1 L1096.4,303.0 L1097.6,303.1 L1098.7,303.4 L1099.7,303.9" class="k" stroke-width="2.4"/>
<path d="M1076.1,323.0 L1076.5,321.9 L1076.9,320.7 L1077.4,319.5 L1077.9,318.3 L1078.5,317.1 L1079.2,315.9 L1079.9,314.8 L1080.7,313.7 L1081.5,312.6 L1082.3,311.5 L1083.2,310.5 L1084.1,309.5 L1085.1,308.6 L1086.0,307.7 L1087.0,306.9 L1088.0,306.2 L1089.0,305.5 L1090.0,304.9 L1091.0,304.4 L1092.0,303.9 L1092.9,303.6 L1093.9,303.3 L1094.8,303.1 L1095.7,303.0" class="k" stroke-width="3.3"/>
<ellipse cx="1103.4" cy="370.2" rx="10.20" ry="18.80" transform="rotate(35.5 1103.4 370.2)" fill="#fff" stroke="#8a8a8a" stroke-width="1.1"/>
<path d="M1089.9,380.9 L1089.7,379.5 L1089.7,378.0 L1089.9,376.4 L1090.2,374.7 L1090.7,372.9 L1091.3,371.2 L1092.1,369.4 L1093.0,367.6 L1094.0,365.8 L1095.2,364.1 L1096.4,362.5 L1097.8,361.0 L1099.2,359.6 L1100.6,358.3 L1102.1,357.1 L1103.6,356.1 L1105.1,355.3 L1106.5,354.6 L1108.0,354.2 L1109.4,353.9 L1110.7,353.8 L1111.9,353.9 L1113.0,354.2 L1114.0,354.7" class="k" stroke-width="2.4"/>
<path d="M1090.4,373.8 L1090.8,372.7 L1091.2,371.5 L1091.7,370.3 L1092.2,369.1 L1092.8,367.9 L1093.5,366.7 L1094.2,365.6 L1095.0,364.5 L1095.8,363.4 L1096.6,362.3 L1097.5,361.3 L1098.4,360.3 L1099.4,359.4 L1100.3,358.5 L1101.3,357.7 L1102.3,357.0 L1103.3,356.3 L1104.3,355.7 L1105.3,355.2 L1106.3,354.7 L1107.2,354.4 L1108.2,354.1 L1109.1,353.9 L1110.0,353.8" class="k" stroke-width="3.3"/>
<ellipse cx="1099.6" cy="433.9" rx="10.20" ry="18.80" transform="rotate(35.5 1099.6 433.9)" fill="#fff" stroke="#8a8a8a" stroke-width="1.1"/>
<path d="M1086.1,444.6 L1085.9,443.2 L1085.9,441.7 L1086.1,440.1 L1086.4,438.4 L1086.9,436.6 L1087.5,434.9 L1088.3,433.1 L1089.2,431.3 L1090.2,429.5 L1091.4,427.8 L1092.6,426.2 L1094.0,424.7 L1095.4,423.3 L1096.8,422.0 L1098.3,420.8 L1099.8,419.8 L1101.3,419.0 L1102.7,418.3 L1104.2,417.9 L1105.6,417.6 L1106.9,417.5 L1108.1,417.6 L1109.2,417.9 L1110.2,418.4" class="k" stroke-width="2.4"/>
<path d="M1086.6,437.5 L1087.0,436.4 L1087.4,435.2 L1087.9,434.0 L1088.4,432.8 L1089.0,431.6 L1089.7,430.4 L1090.4,429.3 L1091.2,428.2 L1092.0,427.1 L1092.8,426.0 L1093.7,425.0 L1094.6,424.0 L1095.6,423.1 L1096.5,422.2 L1097.5,421.4 L1098.5,420.7 L1099.5,420.0 L1100.5,419.4 L1101.5,418.9 L1102.5,418.4 L1103.4,418.1 L1104.4,417.8 L1105.3,417.6 L1106.2,417.5" class="k" stroke-width="3.3"/>
<ellipse cx="673.8" cy="617.7" rx="10.20" ry="18.80" transform="rotate(35.5 673.8 617.7)" fill="#fff" stroke="#8a8a8a" stroke-width="1.1"/>
<path d="M660.3,628.4 L660.1,627.0 L660.1,625.5 L660.3,623.9 L660.6,622.2 L661.1,620.4 L661.7,618.7 L662.5,616.9 L663.4,615.1 L664.4,613.3 L665.6,611.6 L666.8,610.0 L668.2,608.5 L669.6,607.1 L671.0,605.8 L672.5,604.6 L674.0,603.6 L675.5,602.8 L676.9,602.1 L678.4,601.7 L679.8,601.4 L681.1,601.3 L682.3,601.4 L683.4,601.7 L684.4,602.2" class="k" stroke-width="2.4"/>
<path d="M660.8,621.3 L661.2,620.2 L661.6,619.0 L662.1,617.8 L662.6,616.6 L663.2,615.4 L663.9,614.2 L664.6,613.1 L665.4,612.0 L666.2,610.9 L667.0,609.8 L667.9,608.8 L668.8,607.8 L669.8,606.9 L670.7,606.0 L671.7,605.2 L672.7,604.5 L673.7,603.8 L674.7,603.2 L675.7,602.7 L676.7,602.2 L677.6,601.9 L678.6,601.6 L679.5,601.4 L680.4,601.3" class="k" stroke-width="3.3"/>
<ellipse cx="670.9" cy="680.1" rx="10.20" ry="18.80" transform="rotate(35.5 670.9 680.1)" fill="#fff" stroke="#8a8a8a" stroke-width="1.1"/>
<path d="M657.4,690.8 L657.2,689.4 L657.2,687.9 L657.4,686.3 L657.7,684.6 L658.2,682.8 L658.8,681.1 L659.6,679.3 L660.5,677.5 L661.5,675.7 L662.7,674.0 L663.9,672.4 L665.3,670.9 L666.7,669.5 L668.1,668.2 L669.6,667.0 L671.1,666.0 L672.6,665.2 L674.0,664.5 L675.5,664.1 L676.9,663.8 L678.2,663.7 L679.4,663.8 L680.5,664.1 L681.5,664.6" class="k" stroke-width="2.4"/>
<path d="M657.9,683.7 L658.3,682.6 L658.7,681.4 L659.2,680.2 L659.7,679.0 L660.3,677.8 L661.0,676.6 L661.7,675.5 L662.5,674.4 L663.3,673.3 L664.1,672.2 L665.0,671.2 L665.9,670.2 L666.9,669.3 L667.8,668.4 L668.8,667.6 L669.8,666.9 L670.8,666.2 L671.8,665.6 L672.8,665.1 L673.8,664.6 L674.7,664.3 L675.7,664.0 L676.6,663.8 L677.5,663.7" class="k" stroke-width="3.3"/>
<ellipse cx="684.4" cy="732.7" rx="10.20" ry="18.80" transform="rotate(35.5 684.4 732.7)" fill="#fff" stroke="#8a8a8a" stroke-width="1.1"/>
<path d="M670.9,743.4 L670.7,742.0 L670.7,740.5 L670.9,738.9 L671.2,737.2 L671.7,735.4 L672.3,733.7 L673.1,731.9 L674.0,730.1 L675.0,728.3 L676.2,726.6 L677.4,725.0 L678.8,723.5 L680.2,722.1 L681.6,720.8 L683.1,719.6 L684.6,718.6 L686.1,717.8 L687.5,717.1 L689.0,716.7 L690.4,716.4 L691.7,716.3 L692.9,716.4 L694.0,716.7 L695.0,717.2" class="k" stroke-width="2.4"/>
<path d="M671.4,736.3 L671.8,735.2 L672.2,734.0 L672.7,732.8 L673.2,731.6 L673.8,730.4 L674.5,729.2 L675.2,728.1 L676.0,727.0 L676.8,725.9 L677.6,724.8 L678.5,723.8 L679.4,722.8 L680.4,721.9 L681.3,721.0 L682.3,720.2 L683.3,719.5 L684.3,718.8 L685.3,718.2 L686.3,717.7 L687.3,717.2 L688.2,716.9 L689.2,716.6 L690.1,716.4 L691.0,716.3" class="k" stroke-width="3.3"/>
<ellipse cx="846.5" cy="767.5" rx="10.20" ry="18.80" transform="rotate(35.5 846.5 767.5)" fill="#fff" stroke="#8a8a8a" stroke-width="1.1"/>
<path d="M833.0,778.2 L832.8,776.8 L832.8,775.3 L833.0,773.7 L833.3,772.0 L833.8,770.2 L834.4,768.5 L835.2,766.7 L836.1,764.9 L837.1,763.1 L838.3,761.4 L839.5,759.8 L840.9,758.3 L842.3,756.9 L843.7,755.6 L845.2,754.4 L846.7,753.4 L848.2,752.6 L849.6,751.9 L851.1,751.5 L852.5,751.2 L853.8,751.1 L855.0,751.2 L856.1,751.5 L857.1,752.0" class="k" stroke-width="2.4"/>
<path d="M833.5,771.1 L833.9,770.0 L834.3,768.8 L834.8,767.6 L835.3,766.4 L835.9,765.2 L836.6,764.0 L837.3,762.9 L838.1,761.8 L838.9,760.7 L839.7,759.6 L840.6,758.6 L841.5,757.6 L842.5,756.7 L843.4,755.8 L844.4,755.0 L845.4,754.3 L846.4,753.6 L847.4,753.0 L848.4,752.5 L849.4,752.0 L850.3,751.7 L851.3,751.4 L852.2,751.2 L853.1,751.1" class="k" stroke-width="3.3"/>
<ellipse cx="906.5" cy="734.2" rx="10.20" ry="18.80" transform="rotate(35.5 906.5 734.2)" fill="#fff" stroke="#8a8a8a" stroke-width="1.1"/>
<path d="M893.0,744.9 L892.8,743.5 L892.8,742.0 L893.0,740.4 L893.3,738.7 L893.8,736.9 L894.4,735.2 L895.2,733.4 L896.1,731.6 L897.1,729.8 L898.3,728.1 L899.5,726.5 L900.9,725.0 L902.3,723.6 L903.7,722.3 L905.2,721.1 L906.7,720.1 L908.2,719.3 L909.6,718.6 L911.1,718.2 L912.5,717.9 L913.8,717.8 L915.0,717.9 L916.1,718.2 L917.1,718.7" class="k" stroke-width="2.4"/>
<path d="M893.5,737.8 L893.9,736.7 L894.3,735.5 L894.8,734.3 L895.3,733.1 L895.9,731.9 L896.6,730.7 L897.3,729.6 L898.1,728.5 L898.9,727.4 L899.7,726.3 L900.6,725.3 L901.5,724.3 L902.5,723.4 L903.4,722.5 L904.4,721.7 L905.4,721.0 L906.4,720.3 L907.4,719.7 L908.4,719.2 L909.4,718.7 L910.3,718.4 L911.3,718.1 L912.2,717.9 L913.1,717.8" class="k" stroke-width="3.3"/>
<ellipse cx="1022.5" cy="267.5" rx="22.68" ry="41.80" transform="rotate(35.5 1022.5 267.5)" fill="url(#gHole)" stroke="#8a8a8a" stroke-width="1.1"/>
<path d="M992.4,291.4 L992.0,288.2 L992.1,284.8 L992.4,281.2 L993.1,277.5 L994.2,273.6 L995.6,269.6 L997.4,265.6 L999.4,261.7 L1001.7,257.8 L1004.2,254.0 L1007.0,250.4 L1010.0,247.0 L1013.1,243.8 L1016.3,241.0 L1019.6,238.4 L1022.9,236.2 L1026.2,234.3 L1029.5,232.9 L1032.7,231.8 L1035.7,231.2 L1038.7,231.0 L1041.4,231.3 L1043.9,231.9 L1046.1,233.0" class="k" stroke-width="2.4"/>
<path d="M993.6,275.6 L994.4,273.0 L995.3,270.4 L996.4,267.7 L997.6,265.1 L999.0,262.4 L1000.5,259.8 L1002.1,257.2 L1003.8,254.7 L1005.6,252.3 L1007.4,249.9 L1009.4,247.6 L1011.4,245.5 L1013.5,243.4 L1015.7,241.5 L1017.9,239.7 L1020.1,238.0 L1022.3,236.6 L1024.5,235.2 L1026.7,234.1 L1028.9,233.1 L1031.0,232.3 L1033.1,231.7 L1035.2,231.3 L1037.2,231.1" class="k" stroke-width="3.3"/>
<ellipse cx="958.0" cy="309.3" rx="22.68" ry="41.80" transform="rotate(35.5 958.0 309.3)" fill="url(#gHole)" stroke="#8a8a8a" stroke-width="1.1"/>
<clipPath id="ch9889"><ellipse cx="958.0" cy="309.3" rx="22.68" ry="41.80" transform="rotate(35.5 958.0 309.3)" /></clipPath>
<g clip-path="url(#ch9889)"><path d="M947.9,290.9 L949.6,291.0 L951.1,291.4 L952.3,292.2 L953.3,293.4 L953.9,294.8 L954.3,296.6 L954.3,298.6 L954.0,300.8 L953.4,303.1 L952.5,305.5 L951.3,307.9 L949.8,310.1 L948.2,312.3 L946.4,314.3 L944.5,316.0 L942.5,317.4 L940.5,318.6 L938.6,319.3 L936.8,319.7 L935.1,319.6 L933.6,319.2 L932.3,318.4 L931.4,317.3 L930.7,315.8" class="k" stroke-width="2.2"/></g>
<path d="M927.9,333.2 L927.5,330.0 L927.6,326.6 L927.9,323.0 L928.6,319.3 L929.7,315.4 L931.1,311.4 L932.9,307.4 L934.9,303.5 L937.2,299.6 L939.7,295.8 L942.5,292.2 L945.5,288.8 L948.6,285.6 L951.8,282.8 L955.1,280.2 L958.4,278.0 L961.7,276.1 L965.0,274.7 L968.2,273.6 L971.2,273.0 L974.2,272.8 L976.9,273.1 L979.4,273.7 L981.6,274.8" class="k" stroke-width="2.4"/>
<path d="M929.1,317.4 L929.9,314.8 L930.8,312.2 L931.9,309.5 L933.1,306.9 L934.5,304.2 L936.0,301.6 L937.6,299.0 L939.3,296.5 L941.1,294.1 L942.9,291.7 L944.9,289.4 L946.9,287.3 L949.0,285.2 L951.2,283.3 L953.4,281.5 L955.6,279.8 L957.8,278.4 L960.0,277.0 L962.2,275.9 L964.4,274.9 L966.5,274.1 L968.6,273.5 L970.7,273.1 L972.7,272.9" class="k" stroke-width="3.3"/>
<ellipse cx="1030.8" cy="335.2" rx="22.68" ry="41.80" transform="rotate(35.5 1030.8 335.2)" fill="url(#gHole)" stroke="#8a8a8a" stroke-width="1.1"/>
<clipPath id="ch10643"><ellipse cx="1030.8" cy="335.2" rx="22.68" ry="41.80" transform="rotate(35.5 1030.8 335.2)" /></clipPath>
<g clip-path="url(#ch10643)"><path d="M1015.3,321.2 L1016.8,321.2 L1018.1,321.6 L1019.2,322.3 L1020.1,323.4 L1020.7,324.7 L1021.0,326.3 L1021.0,328.0 L1020.7,330.0 L1020.2,332.1 L1019.4,334.2 L1018.3,336.3 L1017.0,338.3 L1015.5,340.2 L1013.9,342.0 L1012.2,343.5 L1010.5,344.8 L1008.7,345.8 L1007.0,346.5 L1005.4,346.8 L1003.9,346.8 L1002.5,346.4 L1001.4,345.7 L1000.6,344.7 L1000.0,343.4" class="k" stroke-width="2.2"/></g>
<path d="M1000.7,359.1 L1000.3,355.9 L1000.4,352.5 L1000.7,348.9 L1001.4,345.2 L1002.5,341.3 L1003.9,337.3 L1005.7,333.3 L1007.7,329.4 L1010.0,325.5 L1012.5,321.7 L1015.3,318.1 L1018.3,314.7 L1021.4,311.5 L1024.6,308.7 L1027.9,306.1 L1031.2,303.9 L1034.5,302.0 L1037.8,300.6 L1041.0,299.5 L1044.0,298.9 L1047.0,298.7 L1049.7,299.0 L1052.2,299.6 L1054.4,300.7" class="k" stroke-width="2.4"/>
<path d="M1001.9,343.3 L1002.7,340.7 L1003.6,338.1 L1004.7,335.4 L1005.9,332.8 L1007.3,330.1 L1008.8,327.5 L1010.4,324.9 L1012.1,322.4 L1013.9,320.0 L1015.7,317.6 L1017.7,315.3 L1019.7,313.2 L1021.8,311.1 L1024.0,309.2 L1026.2,307.4 L1028.4,305.7 L1030.6,304.3 L1032.8,302.9 L1035.0,301.8 L1037.2,300.8 L1039.3,300.0 L1041.4,299.4 L1043.5,299.0 L1045.5,298.8" class="k" stroke-width="3.3"/>
<ellipse cx="787.5" cy="438.4" rx="22.68" ry="41.80" transform="rotate(35.5 787.5 438.4)" fill="url(#gHole)" stroke="#8a8a8a" stroke-width="1.1"/>
<clipPath id="ch8313"><ellipse cx="787.5" cy="438.4" rx="22.68" ry="41.80" transform="rotate(35.5 787.5 438.4)" /></clipPath>
<g clip-path="url(#ch8313)"><path d="M778.6,410.3 L780.9,410.4 L782.9,411.0 L784.6,412.1 L786.0,413.7 L786.9,415.7 L787.4,418.1 L787.4,420.9 L787.0,423.9 L786.2,427.1 L784.9,430.4 L783.3,433.6 L781.3,436.8 L779.0,439.7 L776.5,442.5 L773.9,444.8 L771.2,446.8 L768.4,448.3 L765.8,449.4 L763.3,449.9 L761.0,449.8 L758.9,449.3 L757.2,448.2 L755.9,446.6 L754.9,444.6" class="k" stroke-width="2.2"/></g>
<path d="M757.4,462.3 L757.0,459.1 L757.1,455.7 L757.4,452.1 L758.1,448.4 L759.2,444.5 L760.6,440.5 L762.4,436.5 L764.4,432.6 L766.7,428.7 L769.2,424.9 L772.0,421.3 L775.0,417.9 L778.1,414.7 L781.3,411.9 L784.6,409.3 L787.9,407.1 L791.2,405.2 L794.5,403.8 L797.7,402.7 L800.7,402.1 L803.7,401.9 L806.4,402.2 L808.9,402.8 L811.1,403.9" class="k" stroke-width="2.4"/>
<path d="M758.6,446.5 L759.4,443.9 L760.3,441.3 L761.4,438.6 L762.6,436.0 L764.0,433.3 L765.5,430.7 L767.1,428.1 L768.8,425.6 L770.6,423.2 L772.4,420.8 L774.4,418.5 L776.4,416.4 L778.5,414.3 L780.7,412.4 L782.9,410.6 L785.1,408.9 L787.3,407.5 L789.5,406.1 L791.7,405.0 L793.9,404.0 L796.0,403.2 L798.1,402.6 L800.2,402.2 L802.2,402.0" class="k" stroke-width="3.3"/>
<ellipse cx="718.0" cy="486.6" rx="22.68" ry="41.80" transform="rotate(35.5 718.0 486.6)" fill="url(#gHole)" stroke="#8a8a8a" stroke-width="1.1"/>
<path d="M687.9,510.5 L687.5,507.3 L687.6,503.9 L687.9,500.3 L688.6,496.6 L689.7,492.7 L691.1,488.7 L692.9,484.7 L694.9,480.8 L697.2,476.9 L699.7,473.1 L702.5,469.5 L705.5,466.1 L708.6,462.9 L711.8,460.1 L715.1,457.5 L718.4,455.3 L721.7,453.4 L725.0,452.0 L728.2,450.9 L731.2,450.3 L734.2,450.1 L736.9,450.4 L739.4,451.0 L741.6,452.1" class="k" stroke-width="2.4"/>
<path d="M689.1,494.7 L689.9,492.1 L690.8,489.5 L691.9,486.8 L693.1,484.2 L694.5,481.5 L696.0,478.9 L697.6,476.3 L699.3,473.8 L701.1,471.4 L702.9,469.0 L704.9,466.7 L706.9,464.6 L709.0,462.5 L711.2,460.6 L713.4,458.8 L715.6,457.1 L717.8,455.7 L720.0,454.3 L722.2,453.2 L724.4,452.2 L726.5,451.4 L728.6,450.8 L730.7,450.4 L732.7,450.2" class="k" stroke-width="3.3"/>
<ellipse cx="719.5" cy="555.4" rx="22.68" ry="41.80" transform="rotate(35.5 719.5 555.4)" fill="url(#gHole)" stroke="#8a8a8a" stroke-width="1.1"/>
<clipPath id="ch7750"><ellipse cx="719.5" cy="555.4" rx="22.68" ry="41.80" transform="rotate(35.5 719.5 555.4)" /></clipPath>
<g clip-path="url(#ch7750)"><path d="M711.6,524.3 L713.8,524.4 L715.6,524.9 L717.2,525.9 L718.5,527.4 L719.3,529.3 L719.8,531.5 L719.8,534.1 L719.4,536.9 L718.6,539.8 L717.4,542.8 L715.9,545.8 L714.1,548.8 L712.0,551.5 L709.7,554.0 L707.3,556.2 L704.7,558.1 L702.2,559.5 L699.8,560.4 L697.4,560.9 L695.3,560.9 L693.4,560.3 L691.8,559.3 L690.6,557.9 L689.7,556.0" class="k" stroke-width="2.2"/></g>
<path d="M689.4,579.3 L689.0,576.1 L689.1,572.7 L689.4,569.1 L690.1,565.4 L691.2,561.5 L692.6,557.5 L694.4,553.5 L696.4,549.6 L698.7,545.7 L701.2,541.9 L704.0,538.3 L707.0,534.9 L710.1,531.7 L713.3,528.9 L716.6,526.3 L719.9,524.1 L723.2,522.2 L726.5,520.8 L729.7,519.7 L732.7,519.1 L735.7,518.9 L738.4,519.2 L740.9,519.8 L743.1,520.9" class="k" stroke-width="2.4"/>
<path d="M690.6,563.5 L691.4,560.9 L692.3,558.3 L693.4,555.6 L694.6,553.0 L696.0,550.3 L697.5,547.7 L699.1,545.1 L700.8,542.6 L702.6,540.2 L704.4,537.8 L706.4,535.5 L708.4,533.4 L710.5,531.3 L712.7,529.4 L714.9,527.6 L717.1,525.9 L719.3,524.5 L721.5,523.1 L723.7,522.0 L725.9,521.0 L728.0,520.2 L730.1,519.6 L732.2,519.2 L734.2,519.0" class="k" stroke-width="3.3"/>
<ellipse cx="742.2" cy="714.1" rx="22.68" ry="41.80" transform="rotate(35.5 742.2 714.1)" fill="url(#gHole)" stroke="#8a8a8a" stroke-width="1.1"/>
<clipPath id="ch8136"><ellipse cx="742.2" cy="714.1" rx="22.68" ry="41.80" transform="rotate(35.5 742.2 714.1)" /></clipPath>
<g clip-path="url(#ch8136)"><path d="M738.1,684.8 L740.0,684.8 L741.7,685.3 L743.1,686.2 L744.2,687.5 L745.0,689.3 L745.4,691.3 L745.4,693.6 L745.1,696.1 L744.4,698.8 L743.3,701.5 L741.9,704.2 L740.3,706.9 L738.4,709.4 L736.3,711.6 L734.1,713.6 L731.8,715.3 L729.5,716.6 L727.3,717.4 L725.2,717.8 L723.3,717.8 L721.6,717.3 L720.1,716.4 L719.0,715.1 L718.2,713.4" class="k" stroke-width="2.2"/></g>
<path d="M712.1,738.0 L711.7,734.8 L711.8,731.4 L712.1,727.8 L712.8,724.1 L713.9,720.2 L715.3,716.2 L717.1,712.2 L719.1,708.3 L721.4,704.4 L723.9,700.6 L726.7,697.0 L729.7,693.6 L732.8,690.4 L736.0,687.6 L739.3,685.0 L742.6,682.8 L745.9,680.9 L749.2,679.5 L752.4,678.4 L755.4,677.8 L758.4,677.6 L761.1,677.9 L763.6,678.5 L765.8,679.6" class="k" stroke-width="2.4"/>
<path d="M713.3,722.2 L714.1,719.6 L715.0,717.0 L716.1,714.3 L717.3,711.7 L718.7,709.0 L720.2,706.4 L721.8,703.8 L723.5,701.3 L725.3,698.9 L727.1,696.5 L729.1,694.2 L731.1,692.1 L733.2,690.0 L735.4,688.1 L737.6,686.3 L739.8,684.6 L742.0,683.2 L744.2,681.8 L746.4,680.7 L748.6,679.7 L750.7,678.9 L752.8,678.3 L754.9,677.9 L756.9,677.7" class="k" stroke-width="3.3"/>
<ellipse cx="745.4" cy="780.0" rx="22.68" ry="41.80" transform="rotate(35.5 745.4 780.0)" fill="url(#gHole)" stroke="#8a8a8a" stroke-width="1.1"/>
<path d="M715.3,803.9 L714.9,800.7 L715.0,797.3 L715.3,793.7 L716.0,790.0 L717.1,786.1 L718.5,782.1 L720.3,778.1 L722.3,774.2 L724.6,770.3 L727.1,766.5 L729.9,762.9 L732.9,759.5 L736.0,756.3 L739.2,753.5 L742.5,750.9 L745.8,748.7 L749.1,746.8 L752.4,745.4 L755.6,744.3 L758.6,743.7 L761.6,743.5 L764.3,743.8 L766.8,744.4 L769.0,745.5" class="k" stroke-width="2.4"/>
<path d="M716.5,788.1 L717.3,785.5 L718.2,782.9 L719.3,780.2 L720.5,777.6 L721.9,774.9 L723.4,772.3 L725.0,769.7 L726.7,767.2 L728.5,764.8 L730.3,762.4 L732.3,760.1 L734.3,758.0 L736.4,755.9 L738.6,754.0 L740.8,752.2 L743.0,750.5 L745.2,749.1 L747.4,747.7 L749.6,746.6 L751.8,745.6 L753.9,744.8 L756.0,744.2 L758.1,743.8 L760.1,743.6" class="k" stroke-width="3.3"/>
<ellipse cx="813.2" cy="741.7" rx="22.68" ry="41.80" transform="rotate(35.5 813.2 741.7)" fill="url(#gHole)" stroke="#8a8a8a" stroke-width="1.1"/>
<path d="M783.1,765.6 L782.7,762.4 L782.8,759.0 L783.1,755.4 L783.8,751.7 L784.9,747.8 L786.3,743.8 L788.1,739.8 L790.1,735.9 L792.4,732.0 L794.9,728.2 L797.7,724.6 L800.7,721.2 L803.8,718.0 L807.0,715.2 L810.3,712.6 L813.6,710.4 L816.9,708.5 L820.2,707.1 L823.4,706.0 L826.4,705.4 L829.4,705.2 L832.1,705.5 L834.6,706.1 L836.8,707.2" class="k" stroke-width="2.4"/>
<path d="M784.3,749.8 L785.1,747.2 L786.0,744.6 L787.1,741.9 L788.3,739.3 L789.7,736.6 L791.2,734.0 L792.8,731.4 L794.5,728.9 L796.3,726.5 L798.1,724.1 L800.1,721.8 L802.1,719.7 L804.2,717.6 L806.4,715.7 L808.6,713.9 L810.8,712.2 L813.0,710.8 L815.2,709.4 L817.4,708.3 L819.6,707.3 L821.7,706.5 L823.8,705.9 L825.9,705.5 L827.9,705.3" class="k" stroke-width="3.3"/>
<path d="M1039,477.1 L1061.7,460.5 C1070,456 1080,460 1083,470 C1086,482 1084,492 1079.8,498.2 L1064.7,513.3 L1045,500 Z" fill="#f4f4f4" stroke="none"/>
<path d="M1066,459 C1076,458 1083,466 1084.4,478 C1085,488 1083,494 1079.8,498.2" stroke="#9a9a9a" stroke-width="1.3" fill="none"/>
<line x1="1079.8" y1="499.2" x2="1108.6" y2="496.5" stroke="#9a9a9a" stroke-width="1.3"/>
<line x1="1079.8" y1="498.2" x2="1064.7" y2="513.3" stroke="#9a9a9a" stroke-width="1.3"/>
<line x1="1039.0" y1="477.1" x2="1061.7" y2="460.5" class="k" stroke-width="3"/>
<linearGradient id="gl1" gradientUnits="userSpaceOnUse" x1="832" y1="653" x2="860" y2="667"><stop offset="0" stop-color="#000" stop-opacity="0"/><stop offset="1" stop-color="#000"/></linearGradient>
<linearGradient id="gl2" gradientUnits="userSpaceOnUse" x1="988" y1="430" x2="1000" y2="442"><stop offset="0" stop-color="#000" stop-opacity="0.3"/><stop offset="1" stop-color="#000"/></linearGradient>
<path d="M832.7,653.4 L908,689.5" stroke="url(#gl1)" stroke-width="3" fill="none"/>
<path d="M990.7,432.5 L1040,481" stroke="url(#gl2)" stroke-width="3.2" fill="none"/>
<g filter="url(#b6)" opacity="0.55"><path d="M836,650 L905,683" stroke="#9c9c9c" stroke-width="12" fill="none"/></g>
<ellipse cx="964.3" cy="582.0" rx="68.37" ry="126.00" transform="rotate(35.5 964.3 582.0)" fill="url(#gBoss)" stroke="none"/>
<path d="M891.1,684.6 L933.1,695.1 L1061.7,514.9 L1037.5,479.4Z" fill="url(#gBoss)" stroke="none"/>
<path d="M895.2,687.1 L889.9,683.7 L885.2,679.3 L881.2,674.2 L877.9,668.3 L875.4,661.6 L873.6,654.2 L872.6,646.3 L872.4,637.7 L872.9,628.7 L874.3,619.3 L876.4,609.6 L879.3,599.7 L882.9,589.6 L887.1,579.4 L892.1,569.2 L897.7,559.2 L903.8,549.4 L910.4,539.8 L917.6,530.6 L925.1,521.8 L932.9,513.6 L941.0,505.9 L949.3,498.9 L957.8,492.6 L966.3,487.1 L974.8,482.3 L983.2,478.5 L991.4,475.5 L999.4,473.4 L1007.1,472.3 L1014.4,472.0 L1021.3,472.8 L1027.7,474.4 L1033.6,477.0 L1038.9,480.5 L1043.5,484.8 L1047.5,490.0 L1050.8,496.0 L1053.3,502.7 L1055.0,510.1" class="k" stroke-width="3.2"/>
<line x1="1030.7" y1="493.4" x2="1053.0" y2="509.0" class="k" stroke-width="2.6"/>
<line x1="906.0" y1="678.0" x2="931.0" y2="695.0" class="k" stroke-width="2.2"/>
<ellipse cx="997.4" cy="605.0" rx="60.07" ry="110.70" transform="rotate(35.5 997.4 605.0)" fill="#cbcbcb" stroke="none"/>
<path d="M963.6,700.9 L957.2,701.6 L951.1,701.5 L945.4,700.6 L940.1,698.9 L935.2,696.5 L930.9,693.4 L927.0,689.5 L923.8,685.0 L921.1,679.8 L919.1,674.1 L917.6,667.8 L916.8,661.0 L916.7,653.7 L917.1,646.1 L918.3,638.1 L920.0,629.9 L922.4,621.5 L925.4,612.9 L928.9,604.3 L933.0,595.6 L937.6,587.1 L942.7,578.7 L948.2,570.5 L954.1,562.6 L960.4,555.0 L967.0,547.8 L973.8,541.1 L980.7,534.9 L987.9,529.2 L995.1,524.2 L1002.3,519.8 L1009.4,516.0 L1016.5,513.0 L1023.5,510.8 L1030.2,509.2 L1036.6,508.5 L1042.8,508.5 L1048.6,509.2 L1053.9,510.8 L1058.9,513.1 L1063.3,516.1 L1067.2,519.8 L1070.5,524.2 L1073.3,529.3 L1075.5,535.0 L1077.0,541.2 L1077.9,547.9 L1078.2,555.1 L1077.8,562.7 L1076.8,570.6" class="k" stroke-width="3.4"/>
<ellipse cx="1003.4" cy="609.3" rx="51.55" ry="95.00" transform="rotate(35.5 1003.4 609.3)" fill="#fff" stroke="#8a8a8a" stroke-width="1.2"/>
<ellipse cx="1006.4" cy="611.4" rx="47.75" ry="88.00" transform="rotate(35.5 1006.4 611.4)" fill="#f2f2f2" stroke="#a0a0a0" stroke-width="1.1"/>
<ellipse cx="1008.8" cy="613.1" rx="40.64" ry="74.90" transform="rotate(35.5 1008.8 613.1)" fill="#fff" stroke="none"/>
<path d="M1052.3,552.2 L1235.3,682.9 L1148.3,804.9 L965.3,674.1Z" fill="url(#gShaft)" stroke="none"/>
<path d="M1052.3,552.2 L1235.3,682.9 L1148.3,804.9 L965.3,674.1Z" fill="url(#gShaftEnd)" stroke="none"/>
<line x1="1048.1" y1="548.1" x2="1235.3" y2="682.9" class="k" stroke-width="3"/>
<line x1="960.5" y1="672.6" x2="1148.3" y2="804.9" class="k" stroke-width="3"/>
<path d="M1053.0,538.1 L1054.3,538.6 L1055.5,539.1 L1056.7,539.6 L1057.9,540.2 L1059.1,540.9 L1060.2,541.6 L1061.2,542.4 L1062.3,543.2 L1063.2,544.1 L1064.2,545.0 L1065.1,546.0 L1066.0,547.1 L1066.8,548.2 L1067.5,549.3 L1068.3,550.5 L1069.0,551.7 L1069.6,553.0 L1070.2,554.4 L1070.7,555.7 L1071.2,557.2 L1071.7,558.6 L1072.1,560.1 L1072.5,561.7 L1072.8,563.3" class="k" stroke-width="3"/>
<path d="M982.5,689.8 L980.9,690.0 L979.3,690.2 L977.8,690.3 L976.3,690.3 L974.8,690.3 L973.3,690.2 L971.8,690.1 L970.4,689.9 L969.0,689.7 L967.6,689.4 L966.3,689.0 L965.0,688.6 L963.7,688.1 L962.5,687.6 L961.3,687.0 L960.2,686.4 L959.0,685.7 L958.0,684.9 L956.9,684.1 L955.9,683.2 L955.0,682.3 L954.0,681.3 L953.2,680.3 L952.3,679.2" class="k" stroke-width="3"/>
<ellipse cx="1191.8" cy="743.9" rx="40.64" ry="74.90" transform="rotate(35.5 1191.8 743.9)" fill="#cbcbcb" stroke="#8a8a8a" stroke-width="1.2"/>
<path d="M1230.9,680.5 L1234.0,682.1 L1236.8,684.1 L1239.3,686.6 L1241.4,689.4 L1243.1,692.7 L1244.5,696.3 L1245.6,700.2 L1246.2,704.5 L1246.4,709.1 L1246.3,713.9 L1245.8,718.9 L1244.8,724.1 L1243.5,729.4 L1241.9,734.9 L1239.8,740.4 L1237.5,745.9 L1234.8,751.4 L1231.7,756.9 L1228.4,762.3 L1224.9,767.5 L1221.1,772.6 L1217.1,777.4 L1212.9,782.1 L1208.6,786.4 L1204.1,790.5 L1199.6,794.2 L1195.0,797.5 L1190.3,800.5 L1185.7,803.1 L1181.1,805.2 L1176.7,806.9 L1172.3,808.2 L1168.0,809.0 L1163.9,809.3 L1160.1,809.1 L1156.4,808.5 L1153.0,807.4 L1149.9,805.9 L1147.1,803.9 L1144.6,801.5" class="k" stroke-width="3.4"/>
<ellipse cx="1190.2" cy="743.0" rx="15.52" ry="28.60" transform="rotate(35.5 1190.2 743.0)" fill="#fff" stroke="#8a8a8a" stroke-width="1.2"/>
<path d="M1169.8,760.3 L1169.4,758.1 L1169.3,755.8 L1169.5,753.2 L1169.9,750.6 L1170.6,747.8 L1171.6,745.0 L1172.8,742.2 L1174.2,739.3 L1175.9,736.5 L1177.7,733.8 L1179.7,731.2 L1181.8,728.8 L1184.0,726.6 L1186.3,724.5 L1188.7,722.7 L1191.1,721.2 L1193.4,720.0 L1195.8,719.0 L1198.0,718.4 L1200.2,718.1 L1202.2,718.1 L1204.1,718.4 L1205.8,719.1 L1207.2,720.0" class="k" stroke-width="3.2"/>
<line x1="1181.1" y1="736.1" x2="1198.6" y2="748.0" stroke="#1a1a1a" stroke-width="1.7"/>
<line x1="860.0" y1="313.6" x2="1194.0" y2="551.0" class="cl" stroke-dashoffset="6.9"/>
<line x1="1096.3" y1="367.7" x2="1430.3" y2="603.9" class="cl" stroke-dashoffset="9.1"/>
<line x1="897.1" y1="730.6" x2="1232.9" y2="966.5" class="cl" stroke-dashoffset="4.2"/>
<line x1="665.0" y1="676.8" x2="996.6" y2="913.5" class="cl" stroke-dashoffset="9.3"/>
<linearGradient id="gBs" gradientUnits="objectBoundingBox" x1="0.62" y1="0.2" x2="0.38" y2="0.8"><stop offset="0" stop-color="#fff"/><stop offset="0.7" stop-color="#fff"/><stop offset="1" stop-color="#d6d6d6"/></linearGradient>
<linearGradient id="gBf" gradientUnits="objectBoundingBox" x1="0.7" y1="0.1" x2="0.3" y2="0.95"><stop offset="0" stop-color="#fff"/><stop offset="0.55" stop-color="#fff"/><stop offset="1" stop-color="#c4c4c4"/></linearGradient>
<linearGradient id="gBh" gradientUnits="objectBoundingBox" x1="0" y1="0.5" x2="1" y2="0.5"><stop offset="0" stop-color="#fff"/><stop offset="0.35" stop-color="#fff"/><stop offset="0.55" stop-color="#cdcdcd"/><stop offset="1" stop-color="#c8c8c8"/></linearGradient>
<g><path d="M1218.0,540.1 L1211.1,538.7 L1200.0,542.0 L1193.3,547.0 L1188.0,556.0 L1186.1,565.0 L1187.4,573.7 L1193.3,580.6 L1255.4,622.0 L1280.1,586.5Z" fill="url(#gBs)" stroke="none"/><path d="M1211.1,538.7 C1209.2,539.2 1203.0,540.6 1200.0,542.0 C1197.0,543.4 1195.3,544.7 1193.3,547.0 C1191.3,549.3 1189.2,553.0 1188.0,556.0 C1186.8,559.0 1186.2,562.0 1186.1,565.0 C1186.0,568.0 1186.2,571.1 1187.4,573.7 C1188.6,576.3 1192.3,579.5 1193.3,580.6" class="k" stroke-width="3.2"/><path d="M1216.0,543.0 C1214.3,543.2 1209.0,542.8 1206.0,544.0 C1203.0,545.2 1200.3,547.5 1198.0,550.0 C1195.7,552.5 1193.3,556.2 1192.0,559.0 C1190.7,561.8 1190.3,565.7 1190.0,567.0" stroke="#555" stroke-width="1.2" fill="none"/><path d="M1210.0,538.7 L1218.0,540.1 L1280.1,586.5" class="k" stroke-width="2.3"/><line x1="1193.3" y1="580.6" x2="1255.4" y2="622.0" class="k" stroke-width="2.3"/><path d="M1240.7,556.9 C1238.8,557.5 1232.5,558.9 1229.0,560.5 C1225.5,562.1 1222.7,563.8 1220.0,566.8 C1217.3,569.8 1214.5,575.4 1213.1,578.6 C1211.7,581.8 1211.8,583.9 1211.6,586.0 C1211.4,588.1 1212.0,590.5 1212.1,591.4" class="k" stroke-width="2.3"/><line x1="1181.0" y1="546.5" x2="1187.0" y2="550.5" class="k" stroke-width="1.6"/><path d="M1280.1,586.5 C1284.4,583.2 1288.0,582.0 1291.9,580.6 C1295.8,579.2 1300.1,578.0 1303.7,578.1 C1307.3,578.2 1311.1,579.8 1313.6,581.5 C1316.1,583.2 1317.3,585.9 1318.5,588.4 C1319.7,590.9 1319.9,592.9 1320.5,596.3 C1321.1,599.7 1322.8,603.5 1322.0,609.0 C1321.2,614.5 1320.0,622.3 1316.0,629.0 C1312.0,635.7 1304.0,644.6 1298.0,649.0 C1292.0,653.4 1284.4,653.9 1280.1,655.5 C1275.8,657.1 1275.2,658.7 1272.2,658.9 C1269.2,659.1 1265.1,658.2 1262.3,656.5 C1259.5,654.8 1257.0,651.7 1255.4,648.6 C1253.8,645.5 1252.8,641.5 1252.5,637.7 C1252.2,633.9 1252.5,629.8 1253.5,625.9 C1254.5,622.0 1256.3,618.4 1258.4,614.1 C1260.5,609.8 1262.7,604.9 1266.3,600.3 C1269.9,595.7 1275.8,589.8 1280.1,586.5Z" fill="url(#gBf)" stroke="none"/><path d="M1320.8,599.0 C1320.4,597.2 1319.7,591.3 1318.5,588.4 C1317.3,585.5 1316.1,583.2 1313.6,581.5 C1311.1,579.8 1307.3,578.2 1303.7,578.1 C1300.1,578.0 1295.8,579.2 1291.9,580.6 C1288.0,582.0 1284.4,583.2 1280.1,586.5 C1275.8,589.8 1269.9,595.7 1266.3,600.3 C1262.7,604.9 1260.5,609.8 1258.4,614.1 C1256.3,618.4 1254.5,622.0 1253.5,625.9 C1252.5,629.8 1252.2,633.9 1252.5,637.7 C1252.8,641.5 1253.8,645.5 1255.4,648.6 C1257.0,651.7 1259.5,654.8 1262.3,656.5 C1265.1,658.2 1269.2,659.1 1272.2,658.9 C1275.2,658.7 1278.8,656.1 1280.1,655.5" class="k" stroke-width="2.3"/><path d="M1306.0,594.0 L1320.5,598.3 L1339.2,615.1 L1337.3,625.9 L1331.3,642.7 L1323.5,654.5 L1298.8,669.3 L1280.1,655.5 L1270.0,641.0 L1274.0,619.0Z" fill="#fff" stroke="none"/><linearGradient id="gh1286" gradientUnits="userSpaceOnUse" x1="1291.0" y1="636.0" x2="1305.0" y2="642.0"><stop offset="0" stop-color="#fff"/><stop offset="1" stop-color="#c9c9c9"/></linearGradient><path d="M1294.9,623.9 L1308.0,615.0 L1321.5,608.2 L1339.2,615.1 L1337.3,625.9 L1331.3,642.7 L1323.5,654.5 L1298.8,669.3 L1286.0,650.5Z" fill="url(#gh1286)" stroke="none"/><path d="M1320.5,598.3 L1339.2,615.1 L1337.3,625.9 L1331.3,642.7 L1323.5,654.5 L1298.8,669.3 L1280.1,655.5" class="k" stroke-width="2.3"/><line x1="1305.0" y1="590.0" x2="1320.5" y2="600.5" class="k" stroke-width="2.8"/><path d="M1299.0,595.0 L1304.7,589.4" stroke="#aaa" stroke-width="1.5" fill="none"/><path d="M1288.0,606.2 L1278.1,609.1 L1276.1,619.0" stroke="#aaa" stroke-width="1.4" fill="none"/><path d="M1267.0,637.0 L1274.0,646.0" stroke="#aaa" stroke-width="1.4" fill="none"/></g>
<g><path d="M1454.4,592.8 L1447.5,591.4 L1436.4,594.7 L1429.7,599.7 L1424.4,608.7 L1422.5,617.7 L1423.8,626.4 L1429.7,633.3 L1491.8,674.7 L1516.5,639.2Z" fill="url(#gBs)" stroke="none"/><path d="M1447.5,591.4 C1445.7,592.0 1439.4,593.3 1436.4,594.7 C1433.4,596.1 1431.7,597.4 1429.7,599.7 C1427.7,602.0 1425.6,605.7 1424.4,608.7 C1423.2,611.7 1422.6,614.8 1422.5,617.7 C1422.4,620.7 1422.6,623.8 1423.8,626.4 C1425.0,629.0 1428.7,632.2 1429.7,633.3" class="k" stroke-width="3.2"/><path d="M1452.4,595.7 C1450.7,595.9 1445.4,595.5 1442.4,596.7 C1439.4,597.9 1436.7,600.2 1434.4,602.7 C1432.1,605.2 1429.7,608.9 1428.4,611.7 C1427.1,614.5 1426.7,618.4 1426.4,619.7" stroke="#555" stroke-width="1.2" fill="none"/><path d="M1446.4,591.4 L1454.4,592.8 L1516.5,639.2" class="k" stroke-width="2.3"/><line x1="1429.7" y1="633.3" x2="1491.8" y2="674.7" class="k" stroke-width="2.3"/><path d="M1477.1,609.6 C1475.2,610.2 1468.9,611.6 1465.4,613.2 C1462.0,614.9 1459.1,616.5 1456.4,619.5 C1453.8,622.5 1450.9,628.1 1449.5,631.3 C1448.1,634.5 1448.2,636.6 1448.0,638.7 C1447.8,640.8 1448.4,643.2 1448.5,644.1" class="k" stroke-width="2.3"/><line x1="1417.4" y1="599.2" x2="1423.4" y2="603.2" class="k" stroke-width="1.6"/><path d="M1516.5,639.2 C1520.8,635.9 1524.4,634.7 1528.3,633.3 C1532.2,631.9 1536.5,630.7 1540.1,630.8 C1543.7,631.0 1547.5,632.5 1550.0,634.2 C1552.5,635.9 1553.8,638.6 1554.9,641.1 C1556.1,643.6 1556.3,645.6 1556.9,649.0 C1557.5,652.4 1559.2,656.2 1558.4,661.7 C1557.7,667.2 1556.4,675.0 1552.4,681.7 C1548.4,688.4 1540.4,697.3 1534.4,701.7 C1528.4,706.1 1520.8,706.6 1516.5,708.2 C1512.2,709.9 1511.6,711.4 1508.6,711.6 C1505.6,711.8 1501.5,710.9 1498.7,709.2 C1495.9,707.5 1493.4,704.4 1491.8,701.3 C1490.2,698.2 1489.2,694.2 1488.9,690.4 C1488.6,686.6 1488.9,682.5 1489.9,678.6 C1490.9,674.7 1492.7,671.1 1494.8,666.8 C1496.9,662.5 1499.1,657.6 1502.7,653.0 C1506.3,648.4 1512.2,642.5 1516.5,639.2Z" fill="url(#gBf)" stroke="none"/><path d="M1557.2,651.7 C1556.8,649.9 1556.1,644.0 1554.9,641.1 C1553.7,638.2 1552.5,635.9 1550.0,634.2 C1547.5,632.5 1543.7,631.0 1540.1,630.8 C1536.5,630.7 1532.2,631.9 1528.3,633.3 C1524.4,634.7 1520.8,635.9 1516.5,639.2 C1512.2,642.5 1506.3,648.4 1502.7,653.0 C1499.1,657.6 1496.9,662.5 1494.8,666.8 C1492.7,671.1 1490.9,674.7 1489.9,678.6 C1488.9,682.5 1488.6,686.6 1488.9,690.4 C1489.2,694.2 1490.2,698.2 1491.8,701.3 C1493.4,704.4 1495.9,707.5 1498.7,709.2 C1501.5,710.9 1505.6,711.8 1508.6,711.6 C1511.6,711.4 1515.2,708.8 1516.5,708.2" class="k" stroke-width="2.3"/><path d="M1542.4,646.7 L1556.9,651.0 L1575.6,667.8 L1573.7,678.6 L1567.7,695.4 L1559.9,707.2 L1535.2,722.0 L1516.5,708.2 L1506.4,693.7 L1510.4,671.7Z" fill="#fff" stroke="none"/><linearGradient id="gh1522" gradientUnits="userSpaceOnUse" x1="1527.4" y1="688.7" x2="1541.4" y2="694.7"><stop offset="0" stop-color="#fff"/><stop offset="1" stop-color="#c9c9c9"/></linearGradient><path d="M1531.3,676.6 L1544.4,667.7 L1557.9,660.9 L1575.6,667.8 L1573.7,678.6 L1567.7,695.4 L1559.9,707.2 L1535.2,722.0 L1522.4,703.2Z" fill="url(#gh1522)" stroke="none"/><path d="M1556.9,651.0 L1575.6,667.8 L1573.7,678.6 L1567.7,695.4 L1559.9,707.2 L1535.2,722.0 L1516.5,708.2" class="k" stroke-width="2.3"/><line x1="1541.4" y1="642.7" x2="1556.9" y2="653.2" class="k" stroke-width="2.8"/><path d="M1535.4,647.7 L1541.1,642.1" stroke="#aaa" stroke-width="1.5" fill="none"/><path d="M1524.4,658.9 L1514.5,661.8 L1512.5,671.7" stroke="#aaa" stroke-width="1.4" fill="none"/><path d="M1503.4,689.7 L1510.4,698.7" stroke="#aaa" stroke-width="1.4" fill="none"/></g>
<g><path d="M1022.2,903.6 L1015.3,902.2 L1004.2,905.5 L997.5,910.5 L992.2,919.5 L990.3,928.5 L991.6,937.2 L997.5,944.1 L1059.6,985.5 L1084.3,950.0Z" fill="url(#gBs)" stroke="none"/><path d="M1015.3,902.2 C1013.5,902.8 1007.2,904.1 1004.2,905.5 C1001.2,906.9 999.5,908.2 997.5,910.5 C995.5,912.8 993.4,916.5 992.2,919.5 C991.0,922.5 990.4,925.5 990.3,928.5 C990.2,931.5 990.4,934.6 991.6,937.2 C992.8,939.8 996.5,943.0 997.5,944.1" class="k" stroke-width="3.2"/><path d="M1020.2,906.5 C1018.5,906.7 1013.2,906.3 1010.2,907.5 C1007.2,908.7 1004.5,911.0 1002.2,913.5 C999.9,916.0 997.5,919.7 996.2,922.5 C994.9,925.3 994.5,929.2 994.2,930.5" stroke="#555" stroke-width="1.2" fill="none"/><path d="M1014.2,902.2 L1022.2,903.6 L1084.3,950.0" class="k" stroke-width="2.3"/><line x1="997.5" y1="944.1" x2="1059.6" y2="985.5" class="k" stroke-width="2.3"/><path d="M1044.9,920.4 C1043.0,921.0 1036.7,922.4 1033.2,924.0 C1029.8,925.6 1026.9,927.3 1024.2,930.3 C1021.6,933.3 1018.7,938.9 1017.3,942.1 C1015.9,945.3 1016.0,947.4 1015.8,949.5 C1015.6,951.6 1016.2,954.0 1016.3,954.9" class="k" stroke-width="2.3"/><line x1="985.2" y1="910.0" x2="991.2" y2="914.0" class="k" stroke-width="1.6"/><path d="M1084.3,950.0 C1088.6,946.7 1092.2,945.5 1096.1,944.1 C1100.0,942.7 1104.3,941.5 1107.9,941.6 C1111.5,941.8 1115.3,943.3 1117.8,945.0 C1120.3,946.7 1121.5,949.4 1122.7,951.9 C1123.9,954.4 1124.1,956.4 1124.7,959.8 C1125.3,963.2 1127.0,967.0 1126.2,972.5 C1125.5,978.0 1124.2,985.8 1120.2,992.5 C1116.2,999.2 1108.2,1008.1 1102.2,1012.5 C1096.2,1016.9 1088.6,1017.4 1084.3,1019.0 C1080.0,1020.6 1079.4,1022.2 1076.4,1022.4 C1073.4,1022.6 1069.3,1021.7 1066.5,1020.0 C1063.7,1018.3 1061.2,1015.2 1059.6,1012.1 C1058.0,1009.0 1057.0,1005.0 1056.7,1001.2 C1056.4,997.4 1056.7,993.3 1057.7,989.4 C1058.7,985.5 1060.5,981.9 1062.6,977.6 C1064.7,973.3 1066.9,968.4 1070.5,963.8 C1074.1,959.2 1080.0,953.3 1084.3,950.0Z" fill="url(#gBf)" stroke="none"/><path d="M1125.0,962.5 C1124.6,960.7 1123.9,954.8 1122.7,951.9 C1121.5,949.0 1120.3,946.7 1117.8,945.0 C1115.3,943.3 1111.5,941.8 1107.9,941.6 C1104.3,941.5 1100.0,942.7 1096.1,944.1 C1092.2,945.5 1088.6,946.7 1084.3,950.0 C1080.0,953.3 1074.1,959.2 1070.5,963.8 C1066.9,968.4 1064.7,973.3 1062.6,977.6 C1060.5,981.9 1058.7,985.5 1057.7,989.4 C1056.7,993.3 1056.4,997.4 1056.7,1001.2 C1057.0,1005.0 1058.0,1009.0 1059.6,1012.1 C1061.2,1015.2 1063.7,1018.3 1066.5,1020.0 C1069.3,1021.7 1073.4,1022.6 1076.4,1022.4 C1079.4,1022.2 1083.0,1019.6 1084.3,1019.0" class="k" stroke-width="2.3"/><path d="M1110.2,957.5 L1124.7,961.8 L1143.4,978.6 L1141.5,989.4 L1135.5,1006.2 L1127.7,1018.0 L1103.0,1032.8 L1084.3,1019.0 L1074.2,1004.5 L1078.2,982.5Z" fill="#fff" stroke="none"/><linearGradient id="gh1090" gradientUnits="userSpaceOnUse" x1="1095.2" y1="999.5" x2="1109.2" y2="1005.5"><stop offset="0" stop-color="#fff"/><stop offset="1" stop-color="#c9c9c9"/></linearGradient><path d="M1099.1,987.4 L1112.2,978.5 L1125.7,971.7 L1143.4,978.6 L1141.5,989.4 L1135.5,1006.2 L1127.7,1018.0 L1103.0,1032.8 L1090.2,1014.0Z" fill="url(#gh1090)" stroke="none"/><path d="M1124.7,961.8 L1143.4,978.6 L1141.5,989.4 L1135.5,1006.2 L1127.7,1018.0 L1103.0,1032.8 L1084.3,1019.0" class="k" stroke-width="2.3"/><line x1="1109.2" y1="953.5" x2="1124.7" y2="964.0" class="k" stroke-width="2.8"/><path d="M1103.2,958.5 L1108.9,952.9" stroke="#aaa" stroke-width="1.5" fill="none"/><path d="M1092.2,969.7 L1082.3,972.6 L1080.3,982.5" stroke="#aaa" stroke-width="1.4" fill="none"/><path d="M1071.2,1000.5 L1078.2,1009.5" stroke="#aaa" stroke-width="1.4" fill="none"/></g>
<g><path d="M1258.0,956.4 L1251.1,955.0 L1240.0,958.3 L1233.3,963.3 L1228.0,972.3 L1226.1,981.3 L1227.4,990.0 L1233.3,996.9 L1295.4,1038.3 L1320.1,1002.8Z" fill="url(#gBs)" stroke="none"/><path d="M1251.1,955.0 C1249.2,955.5 1243.0,956.9 1240.0,958.3 C1237.0,959.7 1235.3,961.0 1233.3,963.3 C1231.3,965.6 1229.2,969.3 1228.0,972.3 C1226.8,975.3 1226.2,978.3 1226.1,981.3 C1226.0,984.2 1226.2,987.4 1227.4,990.0 C1228.6,992.6 1232.3,995.8 1233.3,996.9" class="k" stroke-width="3.2"/><path d="M1256.0,959.3 C1254.3,959.5 1249.0,959.1 1246.0,960.3 C1243.0,961.5 1240.3,963.8 1238.0,966.3 C1235.7,968.8 1233.3,972.5 1232.0,975.3 C1230.7,978.1 1230.3,982.0 1230.0,983.3" stroke="#555" stroke-width="1.2" fill="none"/><path d="M1250.0,955.0 L1258.0,956.4 L1320.1,1002.8" class="k" stroke-width="2.3"/><line x1="1233.3" y1="996.9" x2="1295.4" y2="1038.3" class="k" stroke-width="2.3"/><path d="M1280.7,973.2 C1278.8,973.8 1272.5,975.1 1269.0,976.8 C1265.5,978.4 1262.7,980.1 1260.0,983.1 C1257.3,986.1 1254.5,991.7 1253.1,994.9 C1251.7,998.1 1251.8,1000.2 1251.6,1002.3 C1251.4,1004.4 1252.0,1006.8 1252.1,1007.7" class="k" stroke-width="2.3"/><line x1="1221.0" y1="962.8" x2="1227.0" y2="966.8" class="k" stroke-width="1.6"/><path d="M1320.1,1002.8 C1324.4,999.5 1328.0,998.3 1331.9,996.9 C1335.8,995.5 1340.1,994.2 1343.7,994.4 C1347.3,994.5 1351.1,996.1 1353.6,997.8 C1356.1,999.5 1357.3,1002.2 1358.5,1004.7 C1359.7,1007.2 1359.9,1009.2 1360.5,1012.6 C1361.1,1016.0 1362.8,1019.8 1362.0,1025.3 C1361.2,1030.8 1360.0,1038.6 1356.0,1045.3 C1352.0,1052.0 1344.0,1060.9 1338.0,1065.3 C1332.0,1069.7 1324.4,1070.1 1320.1,1071.8 C1315.8,1073.5 1315.2,1075.0 1312.2,1075.2 C1309.2,1075.4 1305.1,1074.5 1302.3,1072.8 C1299.5,1071.1 1297.0,1068.0 1295.4,1064.9 C1293.8,1061.8 1292.8,1057.8 1292.5,1054.0 C1292.2,1050.2 1292.5,1046.1 1293.5,1042.2 C1294.5,1038.3 1296.3,1034.7 1298.4,1030.4 C1300.5,1026.1 1302.7,1021.2 1306.3,1016.6 C1309.9,1012.0 1315.8,1006.1 1320.1,1002.8Z" fill="url(#gBf)" stroke="none"/><path d="M1360.8,1015.3 C1360.4,1013.5 1359.7,1007.6 1358.5,1004.7 C1357.3,1001.8 1356.1,999.5 1353.6,997.8 C1351.1,996.1 1347.3,994.5 1343.7,994.4 C1340.1,994.2 1335.8,995.5 1331.9,996.9 C1328.0,998.3 1324.4,999.5 1320.1,1002.8 C1315.8,1006.1 1309.9,1012.0 1306.3,1016.6 C1302.7,1021.2 1300.5,1026.1 1298.4,1030.4 C1296.3,1034.7 1294.5,1038.3 1293.5,1042.2 C1292.5,1046.1 1292.2,1050.2 1292.5,1054.0 C1292.8,1057.8 1293.8,1061.8 1295.4,1064.9 C1297.0,1068.0 1299.5,1071.1 1302.3,1072.8 C1305.1,1074.5 1309.2,1075.4 1312.2,1075.2 C1315.2,1075.0 1318.8,1072.4 1320.1,1071.8" class="k" stroke-width="2.3"/><path d="M1346.0,1010.3 L1360.5,1014.6 L1379.2,1031.4 L1377.3,1042.2 L1371.3,1059.0 L1363.5,1070.8 L1338.8,1085.6 L1320.1,1071.8 L1310.0,1057.3 L1314.0,1035.3Z" fill="#fff" stroke="none"/><linearGradient id="gh1326" gradientUnits="userSpaceOnUse" x1="1331.0" y1="1052.3" x2="1345.0" y2="1058.3"><stop offset="0" stop-color="#fff"/><stop offset="1" stop-color="#c9c9c9"/></linearGradient><path d="M1334.9,1040.2 L1348.0,1031.3 L1361.5,1024.5 L1379.2,1031.4 L1377.3,1042.2 L1371.3,1059.0 L1363.5,1070.8 L1338.8,1085.6 L1326.0,1066.8Z" fill="url(#gh1326)" stroke="none"/><path d="M1360.5,1014.6 L1379.2,1031.4 L1377.3,1042.2 L1371.3,1059.0 L1363.5,1070.8 L1338.8,1085.6 L1320.1,1071.8" class="k" stroke-width="2.3"/><line x1="1345.0" y1="1006.3" x2="1360.5" y2="1016.8" class="k" stroke-width="2.8"/><path d="M1339.0,1011.3 L1344.7,1005.7" stroke="#aaa" stroke-width="1.5" fill="none"/><path d="M1328.0,1022.5 L1318.1,1025.4 L1316.1,1035.3" stroke="#aaa" stroke-width="1.4" fill="none"/><path d="M1307.0,1053.3 L1314.0,1062.3" stroke="#aaa" stroke-width="1.4" fill="none"/></g>
<ellipse cx="1621.6" cy="1051.3" rx="74.01" ry="136.40" transform="rotate(35.5 1621.6 1051.3)" fill="#fff" stroke="none"/>
<path d="M1542.4,1162.3 L1572.9,1183.0 L1731.3,961.0 L1700.8,940.3Z" fill="#fff" stroke="none"/>
<ellipse cx="1652.1" cy="1072.0" rx="74.01" ry="136.40" transform="rotate(35.5 1652.1 1072.0)" fill="#fff" stroke="none"/>
<linearGradient id="gSeal" gradientUnits="userSpaceOnUse" x1="1560" y1="1010" x2="1535" y2="1150"><stop offset="0" stop-color="#fff"/><stop offset="0.6" stop-color="#f4f4f4"/><stop offset="1" stop-color="#dcdcdc"/></linearGradient>
<path d="M1542.4,1162.3 L1537.9,1158.6 L1533.9,1154.3 L1530.5,1149.2 L1527.6,1143.6 L1525.4,1137.4 L1523.7,1130.7 L1522.6,1123.5 L1522.1,1115.9 L1522.2,1107.8 L1523.0,1099.4 L1524.3,1090.7 L1526.3,1081.8 L1528.8,1072.7 L1532.0,1063.4 L1535.6,1054.1 L1539.8,1044.7 L1544.5,1035.4 L1549.7,1026.2 L1555.3,1017.2 L1561.3,1008.3 L1567.7,999.7 L1574.5,991.5 L1581.5,983.6 L1588.8,976.1 L1596.2,969.1 L1603.9,962.6 L1611.6,956.6 L1619.4,951.3 L1627.2,946.5 L1635.0,942.4 L1642.7,938.9 L1650.3,936.2 L1657.7,934.2 L1664.8,932.8 L1671.7,932.3 L1678.3,932.4 L1684.6,933.3 L1690.4,934.9 L1695.8,937.2 L1700.8,940.3 L1731.3,961.0 L1726.3,957.9 L1720.9,955.6 L1715.1,954.0 L1708.8,953.1 L1702.2,953.0 L1695.3,953.5 L1688.2,954.9 L1680.8,956.9 L1673.2,959.6 L1665.5,963.1 L1657.7,967.2 L1649.9,972.0 L1642.1,977.3 L1634.4,983.3 L1626.7,989.8 L1619.3,996.8 L1612.0,1004.3 L1605.0,1012.2 L1598.2,1020.4 L1591.8,1029.0 L1585.8,1037.9 L1580.2,1046.9 L1575.0,1056.1 L1570.3,1065.4 L1566.1,1074.8 L1562.5,1084.1 L1559.3,1093.4 L1556.8,1102.5 L1554.8,1111.4 L1553.5,1120.1 L1552.7,1128.5 L1552.6,1136.6 L1553.1,1144.2 L1554.2,1151.4 L1555.9,1158.1 L1558.1,1164.3 L1561.0,1169.9 L1564.4,1175.0 L1568.4,1179.3 L1572.9,1183.0Z" fill="url(#gSeal)" stroke="none"/>
<path d="M1542.4,1162.3 L1537.9,1158.6 L1533.9,1154.3 L1530.5,1149.2 L1527.6,1143.6 L1525.4,1137.4 L1523.7,1130.7 L1522.6,1123.5 L1522.1,1115.9 L1522.2,1107.8 L1523.0,1099.4 L1524.3,1090.7 L1526.3,1081.8 L1528.8,1072.7 L1532.0,1063.4 L1535.6,1054.1 L1539.8,1044.7 L1544.5,1035.4 L1549.7,1026.2 L1555.3,1017.2 L1561.3,1008.3 L1567.7,999.7 L1574.5,991.5 L1581.5,983.6 L1588.8,976.1 L1596.2,969.1 L1603.9,962.6 L1611.6,956.6 L1619.4,951.3 L1627.2,946.5 L1635.0,942.4 L1642.7,938.9 L1650.3,936.2 L1657.7,934.2 L1664.8,932.8 L1671.7,932.3 L1678.3,932.4 L1684.6,933.3 L1690.4,934.9 L1695.8,937.2 L1700.8,940.3" class="k" stroke-width="2.4"/>
<line x1="1700.8" y1="940.3" x2="1731.3" y2="961.0" class="k" stroke-width="2.4"/>
<line x1="1542.4" y1="1162.3" x2="1572.9" y2="1183.0" class="k" stroke-width="2.4"/>
<path d="M1719.6,955.2 L1725.8,957.6 L1731.3,961.0 L1736.3,965.1 L1740.6,970.1 L1744.2,975.9 L1747.1,982.4 L1749.4,989.5 L1750.8,997.3 L1751.5,1005.7 L1751.5,1014.6 L1750.7,1023.9 L1749.2,1033.5 L1746.9,1043.5 L1743.9,1053.7 L1740.2,1064.0 L1735.8,1074.4 L1730.8,1084.8 L1725.2,1095.0 L1719.0,1105.1 L1712.4,1115.0 L1705.2,1124.5 L1697.7,1133.6 L1689.8,1142.3 L1681.6,1150.4 L1673.2,1157.9 L1664.7,1164.7 L1656.0,1170.9 L1647.3,1176.3 L1638.7,1180.9 L1630.2,1184.7 L1621.8,1187.6 L1613.6,1189.7 L1605.8,1190.8 L1598.3,1191.0 L1591.2,1190.4 L1584.6,1188.8 L1578.4,1186.4 L1572.9,1183.0 L1567.9,1178.9 L1563.6,1173.9" class="k" stroke-width="2.6"/>
<path d="M1563.6,1173.9 L1560.7,1169.3 L1558.1,1164.3 L1556.1,1158.9 L1554.5,1153.0 L1553.4,1146.7 L1552.7,1140.0 L1552.6,1133.0 L1552.9,1125.8 L1553.7,1118.2 L1555.0,1110.5 L1556.8,1102.5 L1559.0,1094.4 L1561.7,1086.2 L1564.8,1077.9 L1568.4,1069.6 L1572.3,1061.3 L1576.7,1053.0 L1581.4,1044.9 L1586.5,1036.9 L1591.8,1029.0 L1597.5,1021.4 L1603.5,1014.0 L1609.6,1006.9 L1616.0,1000.1 L1622.6,993.6 L1629.3,987.6 L1636.1,981.9 L1643.0,976.7 L1649.9,972.0 L1656.9,967.7 L1663.8,963.9 L1670.6,960.7 L1677.4,958.0 L1684.1,955.9 L1690.6,954.3 L1696.9,953.4 L1703.0,952.9 L1708.8,953.1 L1714.4,953.9 L1719.6,955.2" stroke="#777" stroke-width="1.3" fill="none"/>
<ellipse cx="1652.1" cy="1072.0" rx="70.68" ry="130.26" transform="rotate(35.5 1652.1 1072.0)" fill="none" stroke="#9a9a9a" stroke-width="1.2"/>
<ellipse cx="1652.1" cy="1072.0" rx="67.72" ry="124.81" transform="rotate(35.5 1652.1 1072.0)" fill="#f7f7f7" stroke="#333" stroke-width="1.6"/>
<ellipse cx="1650.1" cy="1070.6" rx="64.76" ry="119.35" transform="rotate(35.5 1650.1 1070.6)" fill="#fff" stroke="#222" stroke-width="2"/>
<ellipse cx="1648.1" cy="1069.2" rx="61.80" ry="113.89" transform="rotate(35.5 1648.1 1069.2)" fill="#f4f4f4" stroke="#111" stroke-width="2.2"/>
<clipPath id="cSeal"><ellipse cx="1648.1" cy="1069.2" rx="61.80" ry="113.89" transform="rotate(35.5 1648.1 1069.2)" /></clipPath>
<g clip-path="url(#cSeal)"><ellipse cx="1624.6" cy="1053.3" rx="59.21" ry="109.12" transform="rotate(35.5 1624.6 1053.3)" fill="#fff" stroke="#111" stroke-width="2.2"/><ellipse cx="1635.6" cy="1060.8" rx="60.32" ry="111.17" transform="rotate(35.5 1635.6 1060.8)" fill="none" stroke="#666" stroke-width="1.2"/></g>
<clipPath id="cSealIn"><ellipse cx="1624.6" cy="1053.3" rx="59.21" ry="109.12" transform="rotate(35.5 1624.6 1053.3)" /></clipPath>
<g clip-path="url(#cSealIn)"><g clip-path="url(#cSeal)"><line x1="1181.1" y1="736.1" x2="1652.0" y2="1072.4" class="cl" stroke-dashoffset="39"/></g></g>
<line x1="1652.0" y1="1072.4" x2="1866.5" y2="1225.5" class="cl" stroke-dashoffset="617.6"/>
<ellipse cx="1907.5" cy="1254.9" rx="48.10" ry="92.40" transform="rotate(35.5 1907.5 1254.9)" fill="#fff" stroke="none"/>
<ellipse cx="1916.1" cy="1260.5" rx="48.10" ry="92.40" transform="rotate(35.5 1916.1 1260.5)" fill="#cbcbcb" stroke="#9a9a9a" stroke-width="1.2"/>
<path d="M1853.8,1330.1 L1850.9,1327.7 L1848.4,1324.8 L1846.2,1321.5 L1844.4,1317.8 L1842.9,1313.7 L1841.9,1309.2 L1841.3,1304.4 L1841.1,1299.3 L1841.3,1294.0 L1841.9,1288.3 L1842.9,1282.5 L1844.3,1276.5 L1846.1,1270.4 L1848.2,1264.2 L1850.8,1257.9 L1853.7,1251.6 L1856.9,1245.3 L1860.4,1239.1 L1864.3,1233.0 L1868.3,1227.0 L1872.7,1221.2 L1877.2,1215.5 L1881.9,1210.2 L1886.8,1205.1 L1891.9,1200.3 L1897.0,1195.9 L1902.1,1191.8 L1907.4,1188.1 L1912.6,1184.8 L1917.8,1182.0 L1922.9,1179.6 L1927.9,1177.6 L1932.8,1176.2 L1937.5,1175.2 L1942.1,1174.7 L1946.4,1174.7 L1950.5,1175.2 L1954.4,1176.2 L1957.9,1177.7 L1961.2,1179.7 L1969.8,1185.3 L1972.7,1187.7 L1975.2,1190.6 L1977.4,1193.9 L1979.2,1197.6 L1980.7,1201.7 L1981.7,1206.2 L1982.3,1211.0 L1982.5,1216.1 L1982.3,1221.4 L1981.7,1227.1 L1980.7,1232.9 L1979.3,1238.9 L1977.5,1245.0 L1975.4,1251.2 L1972.8,1257.5 L1969.9,1263.8 L1966.7,1270.1 L1963.2,1276.3 L1959.3,1282.4 L1955.3,1288.4 L1950.9,1294.2 L1946.4,1299.9 L1941.7,1305.2 L1936.8,1310.3 L1931.7,1315.1 L1926.6,1319.5 L1921.5,1323.6 L1916.2,1327.3 L1911.0,1330.6 L1905.8,1333.4 L1900.7,1335.8 L1895.7,1337.8 L1890.8,1339.2 L1886.1,1340.2 L1881.5,1340.7 L1877.2,1340.7 L1873.1,1340.2 L1869.2,1339.2 L1865.7,1337.7 L1862.4,1335.7Z" class="k" stroke-width="2.7"/>
<ellipse cx="1916.1" cy="1260.5" rx="16.50" ry="29.30" transform="rotate(35.5 1916.1 1260.5)" fill="#fff" stroke="#9a9a9a" stroke-width="1.2"/>
<clipPath id="cW"><ellipse cx="1916.1" cy="1260.5" rx="16.50" ry="29.30" transform="rotate(35.5 1916.1 1260.5)" /></clipPath>
<g clip-path="url(#cW)"><ellipse cx="1906.5" cy="1254.2" rx="16.50" ry="29.30" transform="rotate(35.5 1906.5 1254.2)" fill="none" stroke="#000" stroke-width="2.6"/></g>
<path d="M1895.5,1279.6 L1894.9,1277.4 L1894.5,1275.0 L1894.4,1272.4 L1894.7,1269.6 L1895.3,1266.6 L1896.1,1263.6 L1897.3,1260.5 L1898.7,1257.4 L1900.4,1254.4 L1902.3,1251.4 L1904.4,1248.6 L1906.7,1246.0 L1909.1,1243.5 L1911.6,1241.4 L1914.1,1239.4 L1916.7,1237.8 L1919.3,1236.5 L1921.9,1235.6 L1924.3,1235.0 L1926.7,1234.8 L1928.9,1234.9 L1930.9,1235.5 L1932.7,1236.3 L1934.2,1237.6" class="k" stroke-width="3"/>
<line x1="1921.1" y1="1264.5" x2="1975.0" y2="1303.0" class="cl" stroke-dashoffset="948.3"/>
<g><path d="M2018.7,1298.7 L2009.9,1296.8 L1999.0,1300.0 L1991.2,1306.2 L1984.5,1314.5 L1980.6,1322.4 L1979.3,1329.0 L1980.0,1334.9 L1985.0,1343.7 L2051.1,1389.9 L2082.4,1346.2Z" fill="url(#gBs)" stroke="none"/><path d="M2009.9,1296.8 C2008.1,1297.3 2002.1,1298.4 1999.0,1300.0 C1995.9,1301.6 1993.6,1303.8 1991.2,1306.2 C1988.8,1308.6 1986.3,1311.8 1984.5,1314.5 C1982.7,1317.2 1981.5,1320.0 1980.6,1322.4 C1979.7,1324.8 1979.4,1326.9 1979.3,1329.0 C1979.2,1331.1 1979.0,1332.5 1980.0,1334.9 C1981.0,1337.4 1984.2,1342.2 1985.0,1343.7" class="k" stroke-width="3.2"/><path d="M2014.0,1301.0 C2012.2,1301.4 2006.3,1302.0 2003.0,1303.5 C1999.7,1305.0 1996.7,1307.2 1994.0,1310.0 C1991.3,1312.8 1988.7,1316.7 1987.0,1320.0 C1985.3,1323.3 1984.5,1328.3 1984.0,1330.0" stroke="#555" stroke-width="1.2" fill="none"/><path d="M2008,1296.8 L2018.7,1298.7 L2082.4,1346.2" class="k" stroke-width="2.4"/><line x1="1985.0" y1="1343.7" x2="2051.1" y2="1389.9" class="k" stroke-width="2.4"/><path d="M2054.9,1326.8 C2053.1,1327.4 2047.3,1328.9 2044.0,1330.5 C2040.7,1332.1 2037.6,1334.0 2034.9,1336.2 C2032.2,1338.4 2029.9,1341.0 2028.0,1343.5 C2026.1,1346.0 2024.8,1348.5 2023.7,1351.2 C2022.6,1354.0 2021.9,1357.1 2021.5,1360.0 C2021.1,1362.9 2020.6,1366.3 2021.2,1368.6 C2021.8,1370.9 2024.3,1372.8 2024.9,1373.6" class="k" stroke-width="2.4"/><path d="M2082.4,1346.2 C2087.0,1342.9 2090.7,1341.2 2094.8,1339.9 C2099.0,1338.7 2103.6,1338.1 2107.3,1338.7 C2111.1,1339.3 2114.6,1341.0 2117.3,1343.7 C2120.0,1346.4 2122.3,1351.8 2123.6,1354.9 C2124.8,1358.0 2124.4,1359.1 2124.8,1362.4 C2125.2,1365.8 2127.1,1369.1 2126.0,1375.0 C2124.9,1380.9 2122.3,1390.8 2118.0,1398.0 C2113.7,1405.2 2106.1,1413.4 2100.0,1418.0 C2093.9,1422.6 2086.3,1424.0 2081.7,1425.5 C2077.1,1427.0 2075.6,1427.3 2072.4,1427.3 C2069.2,1427.3 2065.5,1427.0 2062.4,1425.5 C2059.3,1424.0 2055.8,1421.6 2053.6,1418.6 C2051.4,1415.6 2049.9,1411.2 2049.3,1407.3 C2048.7,1403.3 2048.8,1399.7 2049.9,1394.9 C2051.0,1390.1 2053.2,1384.4 2056.1,1378.6 C2059.0,1372.8 2063.0,1365.3 2067.4,1359.9 C2071.8,1354.5 2077.8,1349.5 2082.4,1346.2Z" fill="url(#gBf)" stroke="none"/><path d="M2125.0,1365.0 C2124.8,1363.3 2124.9,1358.5 2123.6,1354.9 C2122.3,1351.4 2120.0,1346.4 2117.3,1343.7 C2114.6,1341.0 2111.1,1339.3 2107.3,1338.7 C2103.6,1338.1 2099.0,1338.7 2094.8,1339.9 C2090.7,1341.2 2087.0,1342.9 2082.4,1346.2 C2077.8,1349.5 2071.8,1354.5 2067.4,1359.9 C2063.0,1365.3 2059.0,1372.8 2056.1,1378.6 C2053.2,1384.4 2051.0,1390.1 2049.9,1394.9 C2048.8,1399.7 2048.7,1403.3 2049.3,1407.3 C2049.9,1411.2 2051.4,1415.6 2053.6,1418.6 C2055.8,1421.6 2059.3,1424.0 2062.4,1425.5 C2065.5,1427.0 2069.2,1427.3 2072.4,1427.3 C2075.6,1427.3 2080.1,1425.8 2081.7,1425.5" class="k" stroke-width="2.4"/><path d="M2106.7,1353.0 L2124.8,1363.6 L2149.2,1381.1 L2146.0,1396.1 L2137.3,1418.6 L2126.1,1429.8 L2104.2,1442.9 L2081.7,1425.5 L2070.0,1408.0 L2075.0,1385.0Z" fill="#fff" stroke="none"/><linearGradient id="ghB" gradientUnits="userSpaceOnUse" x1="2093" y1="1403" x2="2110" y2="1410"><stop offset="0" stop-color="#fff"/><stop offset="1" stop-color="#c9c9c9"/></linearGradient><path d="M2101.1,1389.9 L2114.0,1380.0 L2127.3,1371.1 L2149.2,1381.1 L2146.0,1396.1 L2137.3,1418.6 L2126.1,1429.8 L2104.2,1442.9 L2087.4,1419.8Z" fill="url(#ghB)" stroke="none"/><path d="M2124.8,1363.6 L2149.2,1381.1 L2146.0,1396.1 L2137.3,1418.6 L2126.1,1429.8 L2104.2,1442.9 L2081.7,1425.5" class="k" stroke-width="2.4"/><line x1="2106.7" y1="1353.0" x2="2126.0" y2="1365.5" class="k" stroke-width="3"/><line x1="2076.5" y1="1377.5" x2="2080.0" y2="1373.0" class="k" stroke-width="3"/><line x1="2064.0" y1="1413.5" x2="2065.5" y2="1409.5" class="k" stroke-width="3"/></g>
<ellipse cx="1986.7" cy="1301.9" rx="260.8" ry="148.1" transform="rotate(33.7 1986.7 1301.9)" fill="none" stroke="#000" stroke-width="4.6" stroke-dasharray="18.8 14.5" stroke-dashoffset="8"/>
<path d="M333,1563.9 H2488.2 V28.2 H333 Z" fill="none" stroke="#000" stroke-width="5.2" stroke-dasharray="39.3 14.78" stroke-linejoin="round"/>
<line x1="169.0" y1="375.0" x2="332.8" y2="375.0" stroke="#000" stroke-width="3.7"/>
<line x1="608.5" y1="1222.5" x2="699.9" y2="845.7" stroke="#000" stroke-width="1.7"/>
<line x1="2290.1" y1="1042.9" x2="2098.7" y2="1200.0" stroke="#000" stroke-width="3.7"/>
<line x1="1880.2" y1="382.4" x2="1541.6" y2="656.5" stroke="#000" stroke-width="1.7"/>
<line x1="2158.3" y1="647.4" x2="1726.6" y2="964.2" stroke="#000" stroke-width="1.7"/>
<clipPath id="c1"><path d="M60,330 H109.6 V410 H100.4 V392 H60Z"/></clipPath>
<circle cx="102.6" cy="372.1" r="65.0" fill="#fff" stroke="#000" stroke-width="3.7"/>
<text x="104.1" y="400.3" font-size="79.4" clip-path="url(#c1)">1</text>
<circle cx="591.4" cy="1289.5" r="67.6" fill="#fff" stroke="#000" stroke-width="1.7"/>
<text x="592.4" y="1313.5" font-size="70.3">2</text>
<circle cx="2341.0" cy="995.2" r="65.0" fill="#fff" stroke="#000" stroke-width="3.8"/>
<text x="2341.0" y="1024.3" font-size="78.5">3</text>
<circle cx="1933.1" cy="339.6" r="68.0" fill="#fff" stroke="#000" stroke-width="1.7"/>
<text x="1932.8" y="362.1" font-size="70.0">4</text>
<circle cx="2213.1" cy="607.2" r="68.0" fill="#fff" stroke="#000" stroke-width="1.7"/>
<text x="2213.1" y="630.7" font-size="69.5">5</text>
</svg>
</body></html>
